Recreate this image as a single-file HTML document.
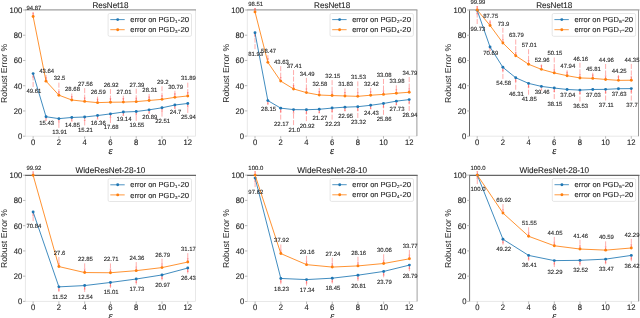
<!DOCTYPE html>
<html><head><meta charset="utf-8"><style>
html,body{margin:0;padding:0;background:#fff;overflow:hidden;}
svg{display:block;font-family:"Liberation Sans", sans-serif;will-change:transform;text-rendering:geometricPrecision;}
</style></head><body>
<svg width="640" height="318" viewBox="0 0 640 318">
<rect width="640" height="318" fill="#fff"/>
<line x1="25.4" y1="136.2" x2="195.5" y2="136.2" stroke="#e8e8e8" stroke-width="1"/>
<line x1="25.4" y1="10.0" x2="25.4" y2="136.2" stroke="#e8e8e8" stroke-width="1"/>
<line x1="195.5" y1="10.0" x2="195.5" y2="136.2" stroke="#e8e8e8" stroke-width="1"/>
<line x1="24.9" y1="9.9" x2="196.0" y2="9.9" stroke="#a0a0a0" stroke-width="1.1"/>
<line x1="22.9" y1="136.20" x2="25.4" y2="136.20" stroke="#aaa" stroke-width="0.8"/>
<text x="17.94" y="139.11" font-size="8.04" textLength="4.26" lengthAdjust="spacingAndGlyphs" fill="#222" stroke="#222" stroke-width="0.1" >0</text>
<line x1="22.9" y1="110.96" x2="25.4" y2="110.96" stroke="#aaa" stroke-width="0.8"/>
<text x="13.67" y="113.87" font-size="8.04" textLength="8.53" lengthAdjust="spacingAndGlyphs" fill="#222" stroke="#222" stroke-width="0.1" >20</text>
<line x1="22.9" y1="85.72" x2="25.4" y2="85.72" stroke="#aaa" stroke-width="0.8"/>
<text x="13.67" y="88.63" font-size="8.04" textLength="8.53" lengthAdjust="spacingAndGlyphs" fill="#222" stroke="#222" stroke-width="0.1" >40</text>
<line x1="22.9" y1="60.48" x2="25.4" y2="60.48" stroke="#aaa" stroke-width="0.8"/>
<text x="13.67" y="63.39" font-size="8.04" textLength="8.53" lengthAdjust="spacingAndGlyphs" fill="#222" stroke="#222" stroke-width="0.1" >60</text>
<line x1="22.9" y1="35.24" x2="25.4" y2="35.24" stroke="#aaa" stroke-width="0.8"/>
<text x="13.67" y="38.15" font-size="8.04" textLength="8.53" lengthAdjust="spacingAndGlyphs" fill="#222" stroke="#222" stroke-width="0.1" >80</text>
<line x1="22.9" y1="10.00" x2="25.4" y2="10.00" stroke="#aaa" stroke-width="0.8"/>
<text x="9.41" y="12.91" font-size="8.04" textLength="12.79" lengthAdjust="spacingAndGlyphs" fill="#222" stroke="#222" stroke-width="0.1" >100</text>
<line x1="33.13" y1="136.2" x2="33.13" y2="138.7" stroke="#aaa" stroke-width="0.8"/>
<text x="31.00" y="144.91" font-size="8.04" textLength="4.26" lengthAdjust="spacingAndGlyphs" fill="#222" stroke="#222" stroke-width="0.1" >0</text>
<line x1="58.90" y1="136.2" x2="58.90" y2="138.7" stroke="#aaa" stroke-width="0.8"/>
<text x="56.77" y="144.91" font-size="8.04" textLength="4.26" lengthAdjust="spacingAndGlyphs" fill="#222" stroke="#222" stroke-width="0.1" >2</text>
<line x1="84.68" y1="136.2" x2="84.68" y2="138.7" stroke="#aaa" stroke-width="0.8"/>
<text x="82.55" y="144.91" font-size="8.04" textLength="4.26" lengthAdjust="spacingAndGlyphs" fill="#222" stroke="#222" stroke-width="0.1" >4</text>
<line x1="110.45" y1="136.2" x2="110.45" y2="138.7" stroke="#aaa" stroke-width="0.8"/>
<text x="108.32" y="144.91" font-size="8.04" textLength="4.26" lengthAdjust="spacingAndGlyphs" fill="#222" stroke="#222" stroke-width="0.1" >6</text>
<line x1="136.22" y1="136.2" x2="136.22" y2="138.7" stroke="#aaa" stroke-width="0.8"/>
<text x="134.09" y="144.91" font-size="8.04" textLength="4.26" lengthAdjust="spacingAndGlyphs" fill="#222" stroke="#222" stroke-width="0.1" >8</text>
<line x1="162.00" y1="136.2" x2="162.00" y2="138.7" stroke="#aaa" stroke-width="0.8"/>
<text x="157.73" y="144.91" font-size="8.04" textLength="8.53" lengthAdjust="spacingAndGlyphs" fill="#222" stroke="#222" stroke-width="0.1" >10</text>
<line x1="187.77" y1="136.2" x2="187.77" y2="138.7" stroke="#aaa" stroke-width="0.8"/>
<text x="183.51" y="144.91" font-size="8.04" textLength="8.53" lengthAdjust="spacingAndGlyphs" fill="#222" stroke="#222" stroke-width="0.1" >12</text>
<text x="108.45" y="153.80" font-size="10.5" textLength="4.0" lengthAdjust="spacingAndGlyphs" font-family="'Liberation Serif', serif" font-style="italic" fill="#111" stroke="#111" stroke-width="0.15">ε</text>
<text transform="translate(6.80,73.40) rotate(-90)" x="-29.49" y="0" font-size="8.69" textLength="58.99" lengthAdjust="spacingAndGlyphs" fill="#222">Robust Error %</text>
<text x="92.40" y="8.14" font-size="8.40" textLength="36.10" lengthAdjust="spacingAndGlyphs" fill="#222" stroke="#222" stroke-width="0.1" >ResNet18</text>
<line x1="33.13" y1="86.93" x2="33.13" y2="74.09" stroke="#ff3838" stroke-opacity="0.6" stroke-width="0.7" stroke-dasharray="5 1.5"/>
<path d="M32.23,77.59 L33.13,73.59 L34.03,77.59 Z" fill="#ff3030" fill-opacity="0.45"/>
<line x1="46.02" y1="118.93" x2="46.02" y2="117.23" stroke="#ff3838" stroke-opacity="0.6" stroke-width="0.7" stroke-dasharray="5 1.5"/>
<path d="M45.12,120.73 L46.02,116.73 L46.92,120.73 Z" fill="#ff3030" fill-opacity="0.45"/>
<line x1="58.90" y1="127.83" x2="58.90" y2="119.15" stroke="#ff3838" stroke-opacity="0.6" stroke-width="0.7" stroke-dasharray="5 1.5"/>
<path d="M58.00,122.65 L58.90,118.65 L59.80,122.65 Z" fill="#ff3030" fill-opacity="0.45"/>
<line x1="71.79" y1="120.43" x2="71.79" y2="117.96" stroke="#ff3838" stroke-opacity="0.6" stroke-width="0.7" stroke-dasharray="5 1.5"/>
<path d="M70.89,121.46 L71.79,117.46 L72.69,121.46 Z" fill="#ff3030" fill-opacity="0.45"/>
<line x1="84.68" y1="125.43" x2="84.68" y2="117.50" stroke="#ff3838" stroke-opacity="0.6" stroke-width="0.7" stroke-dasharray="5 1.5"/>
<path d="M83.78,121.00 L84.68,117.00 L85.58,121.00 Z" fill="#ff3030" fill-opacity="0.45"/>
<line x1="97.56" y1="118.13" x2="97.56" y2="116.05" stroke="#ff3838" stroke-opacity="0.6" stroke-width="0.7" stroke-dasharray="5 1.5"/>
<path d="M96.66,119.55 L97.56,115.55 L98.46,119.55 Z" fill="#ff3030" fill-opacity="0.45"/>
<line x1="110.45" y1="122.93" x2="110.45" y2="114.39" stroke="#ff3838" stroke-opacity="0.6" stroke-width="0.7" stroke-dasharray="5 1.5"/>
<path d="M109.55,117.89 L110.45,113.89 L111.35,117.89 Z" fill="#ff3030" fill-opacity="0.45"/>
<line x1="123.34" y1="114.63" x2="123.34" y2="112.55" stroke="#ff3838" stroke-opacity="0.6" stroke-width="0.7" stroke-dasharray="5 1.5"/>
<path d="M122.44,116.05 L123.34,112.05 L124.24,116.05 Z" fill="#ff3030" fill-opacity="0.45"/>
<line x1="136.22" y1="120.93" x2="136.22" y2="112.03" stroke="#ff3838" stroke-opacity="0.6" stroke-width="0.7" stroke-dasharray="5 1.5"/>
<path d="M135.32,115.53 L136.22,111.53 L137.12,115.53 Z" fill="#ff3030" fill-opacity="0.45"/>
<line x1="149.11" y1="112.93" x2="149.11" y2="110.34" stroke="#ff3838" stroke-opacity="0.6" stroke-width="0.7" stroke-dasharray="5 1.5"/>
<path d="M148.21,113.84 L149.11,109.84 L150.01,113.84 Z" fill="#ff3030" fill-opacity="0.45"/>
<line x1="162.00" y1="116.63" x2="162.00" y2="108.29" stroke="#ff3838" stroke-opacity="0.6" stroke-width="0.7" stroke-dasharray="5 1.5"/>
<path d="M161.10,111.79 L162.00,107.79 L162.90,111.79 Z" fill="#ff3030" fill-opacity="0.45"/>
<line x1="174.88" y1="107.93" x2="174.88" y2="105.53" stroke="#ff3838" stroke-opacity="0.6" stroke-width="0.7" stroke-dasharray="5 1.5"/>
<path d="M173.98,109.03 L174.88,105.03 L175.78,109.03 Z" fill="#ff3030" fill-opacity="0.45"/>
<line x1="187.77" y1="112.93" x2="187.77" y2="103.96" stroke="#ff3838" stroke-opacity="0.6" stroke-width="0.7" stroke-dasharray="5 1.5"/>
<path d="M186.87,107.46 L187.77,103.46 L188.67,107.46 Z" fill="#ff3030" fill-opacity="0.45"/>
<line x1="33.13" y1="12.57" x2="33.13" y2="15.97" stroke="#ff3838" stroke-opacity="0.6" stroke-width="0.7" stroke-dasharray="5 1.5"/>
<path d="M32.23,12.47 L33.13,16.47 L34.03,12.47 Z" fill="#ff3030" fill-opacity="0.45"/>
<line x1="46.02" y1="74.97" x2="46.02" y2="80.63" stroke="#ff3838" stroke-opacity="0.6" stroke-width="0.7" stroke-dasharray="5 1.5"/>
<path d="M45.12,77.13 L46.02,81.13 L46.92,77.13 Z" fill="#ff3030" fill-opacity="0.45"/>
<line x1="58.90" y1="82.67" x2="58.90" y2="94.68" stroke="#ff3838" stroke-opacity="0.6" stroke-width="0.7" stroke-dasharray="5 1.5"/>
<path d="M58.00,91.18 L58.90,95.18 L59.80,91.18 Z" fill="#ff3030" fill-opacity="0.45"/>
<line x1="71.79" y1="93.57" x2="71.79" y2="99.51" stroke="#ff3838" stroke-opacity="0.6" stroke-width="0.7" stroke-dasharray="5 1.5"/>
<path d="M70.89,96.01 L71.79,100.01 L72.69,96.01 Z" fill="#ff3030" fill-opacity="0.45"/>
<line x1="84.68" y1="88.17" x2="84.68" y2="100.92" stroke="#ff3838" stroke-opacity="0.6" stroke-width="0.7" stroke-dasharray="5 1.5"/>
<path d="M83.78,97.42 L84.68,101.42 L85.58,97.42 Z" fill="#ff3030" fill-opacity="0.45"/>
<line x1="97.56" y1="96.67" x2="97.56" y2="102.14" stroke="#ff3838" stroke-opacity="0.6" stroke-width="0.7" stroke-dasharray="5 1.5"/>
<path d="M96.66,98.64 L97.56,102.64 L98.46,98.64 Z" fill="#ff3030" fill-opacity="0.45"/>
<line x1="110.45" y1="89.07" x2="110.45" y2="101.73" stroke="#ff3838" stroke-opacity="0.6" stroke-width="0.7" stroke-dasharray="5 1.5"/>
<path d="M109.55,98.23 L110.45,102.23 L111.35,98.23 Z" fill="#ff3030" fill-opacity="0.45"/>
<line x1="123.34" y1="95.77" x2="123.34" y2="101.61" stroke="#ff3838" stroke-opacity="0.6" stroke-width="0.7" stroke-dasharray="5 1.5"/>
<path d="M122.44,98.11 L123.34,102.11 L124.24,98.11 Z" fill="#ff3030" fill-opacity="0.45"/>
<line x1="136.22" y1="88.77" x2="136.22" y2="101.13" stroke="#ff3838" stroke-opacity="0.6" stroke-width="0.7" stroke-dasharray="5 1.5"/>
<path d="M135.32,97.63 L136.22,101.63 L137.12,97.63 Z" fill="#ff3030" fill-opacity="0.45"/>
<line x1="149.11" y1="93.97" x2="149.11" y2="99.97" stroke="#ff3838" stroke-opacity="0.6" stroke-width="0.7" stroke-dasharray="5 1.5"/>
<path d="M148.21,96.47 L149.11,100.47 L150.01,96.47 Z" fill="#ff3030" fill-opacity="0.45"/>
<line x1="162.00" y1="86.27" x2="162.00" y2="98.85" stroke="#ff3838" stroke-opacity="0.6" stroke-width="0.7" stroke-dasharray="5 1.5"/>
<path d="M161.10,95.35 L162.00,99.35 L162.90,95.35 Z" fill="#ff3030" fill-opacity="0.45"/>
<line x1="174.88" y1="90.77" x2="174.88" y2="96.84" stroke="#ff3838" stroke-opacity="0.6" stroke-width="0.7" stroke-dasharray="5 1.5"/>
<path d="M173.98,93.34 L174.88,97.34 L175.78,93.34 Z" fill="#ff3030" fill-opacity="0.45"/>
<line x1="187.77" y1="82.67" x2="187.77" y2="95.45" stroke="#ff3838" stroke-opacity="0.6" stroke-width="0.7" stroke-dasharray="5 1.5"/>
<path d="M186.87,91.95 L187.77,95.95 L188.67,91.95 Z" fill="#ff3030" fill-opacity="0.45"/>
<polyline points="33.13,73.59 46.02,116.73 58.90,118.65 71.79,117.46 84.68,117.00 97.56,115.55 110.45,113.89 123.34,112.05 136.22,111.53 149.11,109.84 162.00,107.79 174.88,105.03 187.77,103.46" fill="none" stroke="#1f77b4" stroke-width="0.85" stroke-linejoin="round"/>
<circle cx="33.13" cy="73.59" r="1.45" fill="#1f77b4"/>
<circle cx="46.02" cy="116.73" r="1.45" fill="#1f77b4"/>
<circle cx="58.90" cy="118.65" r="1.45" fill="#1f77b4"/>
<circle cx="71.79" cy="117.46" r="1.45" fill="#1f77b4"/>
<circle cx="84.68" cy="117.00" r="1.45" fill="#1f77b4"/>
<circle cx="97.56" cy="115.55" r="1.45" fill="#1f77b4"/>
<circle cx="110.45" cy="113.89" r="1.45" fill="#1f77b4"/>
<circle cx="123.34" cy="112.05" r="1.45" fill="#1f77b4"/>
<circle cx="136.22" cy="111.53" r="1.45" fill="#1f77b4"/>
<circle cx="149.11" cy="109.84" r="1.45" fill="#1f77b4"/>
<circle cx="162.00" cy="107.79" r="1.45" fill="#1f77b4"/>
<circle cx="174.88" cy="105.03" r="1.45" fill="#1f77b4"/>
<circle cx="187.77" cy="103.46" r="1.45" fill="#1f77b4"/>
<polyline points="33.13,16.47 46.02,81.13 58.90,95.18 71.79,100.01 84.68,101.42 97.56,102.64 110.45,102.23 123.34,102.11 136.22,101.63 149.11,100.47 162.00,99.35 174.88,97.34 187.77,95.95" fill="none" stroke="#ff7f0e" stroke-width="0.85" stroke-linejoin="round"/>
<circle cx="33.13" cy="16.47" r="1.45" fill="#ff7f0e"/>
<circle cx="46.02" cy="81.13" r="1.45" fill="#ff7f0e"/>
<circle cx="58.90" cy="95.18" r="1.45" fill="#ff7f0e"/>
<circle cx="71.79" cy="100.01" r="1.45" fill="#ff7f0e"/>
<circle cx="84.68" cy="101.42" r="1.45" fill="#ff7f0e"/>
<circle cx="97.56" cy="102.64" r="1.45" fill="#ff7f0e"/>
<circle cx="110.45" cy="102.23" r="1.45" fill="#ff7f0e"/>
<circle cx="123.34" cy="102.11" r="1.45" fill="#ff7f0e"/>
<circle cx="136.22" cy="101.63" r="1.45" fill="#ff7f0e"/>
<circle cx="149.11" cy="100.47" r="1.45" fill="#ff7f0e"/>
<circle cx="162.00" cy="99.35" r="1.45" fill="#ff7f0e"/>
<circle cx="174.88" cy="97.34" r="1.45" fill="#ff7f0e"/>
<circle cx="187.77" cy="95.95" r="1.45" fill="#ff7f0e"/>
<text x="26.39" y="93.46" font-size="5.98" textLength="14.89" lengthAdjust="spacingAndGlyphs" fill="#222" stroke="#222" stroke-width="0.1" >49.61</text>
<text x="39.27" y="125.46" font-size="5.98" textLength="14.89" lengthAdjust="spacingAndGlyphs" fill="#222" stroke="#222" stroke-width="0.1" >15.43</text>
<text x="52.16" y="134.36" font-size="5.98" textLength="14.89" lengthAdjust="spacingAndGlyphs" fill="#222" stroke="#222" stroke-width="0.1" >13.91</text>
<text x="65.05" y="126.96" font-size="5.98" textLength="14.89" lengthAdjust="spacingAndGlyphs" fill="#222" stroke="#222" stroke-width="0.1" >14.85</text>
<text x="77.93" y="131.96" font-size="5.98" textLength="14.89" lengthAdjust="spacingAndGlyphs" fill="#222" stroke="#222" stroke-width="0.1" >15.21</text>
<text x="90.82" y="124.66" font-size="5.98" textLength="14.89" lengthAdjust="spacingAndGlyphs" fill="#222" stroke="#222" stroke-width="0.1" >16.36</text>
<text x="103.71" y="129.46" font-size="5.98" textLength="14.89" lengthAdjust="spacingAndGlyphs" fill="#222" stroke="#222" stroke-width="0.1" >17.68</text>
<text x="116.59" y="121.16" font-size="5.98" textLength="14.89" lengthAdjust="spacingAndGlyphs" fill="#222" stroke="#222" stroke-width="0.1" >19.14</text>
<text x="129.48" y="127.46" font-size="5.98" textLength="14.89" lengthAdjust="spacingAndGlyphs" fill="#222" stroke="#222" stroke-width="0.1" >19.55</text>
<text x="142.37" y="119.46" font-size="5.98" textLength="14.89" lengthAdjust="spacingAndGlyphs" fill="#222" stroke="#222" stroke-width="0.1" >20.89</text>
<text x="155.25" y="123.16" font-size="5.98" textLength="14.89" lengthAdjust="spacingAndGlyphs" fill="#222" stroke="#222" stroke-width="0.1" >22.51</text>
<text x="169.79" y="114.46" font-size="5.98" textLength="11.58" lengthAdjust="spacingAndGlyphs" fill="#222" stroke="#222" stroke-width="0.1" >24.7</text>
<text x="181.02" y="119.46" font-size="5.98" textLength="14.89" lengthAdjust="spacingAndGlyphs" fill="#222" stroke="#222" stroke-width="0.1" >25.94</text>
<text x="26.39" y="10.36" font-size="5.98" textLength="14.89" lengthAdjust="spacingAndGlyphs" fill="#222" stroke="#222" stroke-width="0.1" >94.87</text>
<text x="39.27" y="72.76" font-size="5.98" textLength="14.89" lengthAdjust="spacingAndGlyphs" fill="#222" stroke="#222" stroke-width="0.1" >43.64</text>
<text x="53.82" y="80.46" font-size="5.98" textLength="11.58" lengthAdjust="spacingAndGlyphs" fill="#222" stroke="#222" stroke-width="0.1" >32.5</text>
<text x="65.05" y="91.36" font-size="5.98" textLength="14.89" lengthAdjust="spacingAndGlyphs" fill="#222" stroke="#222" stroke-width="0.1" >28.68</text>
<text x="77.93" y="85.96" font-size="5.98" textLength="14.89" lengthAdjust="spacingAndGlyphs" fill="#222" stroke="#222" stroke-width="0.1" >27.56</text>
<text x="90.82" y="94.46" font-size="5.98" textLength="14.89" lengthAdjust="spacingAndGlyphs" fill="#222" stroke="#222" stroke-width="0.1" >26.59</text>
<text x="103.71" y="86.86" font-size="5.98" textLength="14.89" lengthAdjust="spacingAndGlyphs" fill="#222" stroke="#222" stroke-width="0.1" >26.92</text>
<text x="116.59" y="93.56" font-size="5.98" textLength="14.89" lengthAdjust="spacingAndGlyphs" fill="#222" stroke="#222" stroke-width="0.1" >27.01</text>
<text x="129.48" y="86.56" font-size="5.98" textLength="14.89" lengthAdjust="spacingAndGlyphs" fill="#222" stroke="#222" stroke-width="0.1" >27.39</text>
<text x="142.37" y="91.76" font-size="5.98" textLength="14.89" lengthAdjust="spacingAndGlyphs" fill="#222" stroke="#222" stroke-width="0.1" >28.31</text>
<text x="156.91" y="84.06" font-size="5.98" textLength="11.58" lengthAdjust="spacingAndGlyphs" fill="#222" stroke="#222" stroke-width="0.1" >29.2</text>
<text x="168.14" y="88.56" font-size="5.98" textLength="14.89" lengthAdjust="spacingAndGlyphs" fill="#222" stroke="#222" stroke-width="0.1" >30.79</text>
<text x="181.02" y="80.46" font-size="5.98" textLength="14.89" lengthAdjust="spacingAndGlyphs" fill="#222" stroke="#222" stroke-width="0.1" >31.89</text>
<rect x="108.10" y="13.50" width="83.4" height="22.8" rx="1.5" fill="#fff" fill-opacity="0.8" stroke="#e0e0e0" stroke-width="0.8"/>
<line x1="110.30" y1="19.60" x2="124.70" y2="19.60" stroke="#1f77b4" stroke-width="0.8"/>
<circle cx="117.70" cy="19.60" r="1.45" fill="#1f77b4"/>
<text x="130.30" y="22.22" font-size="7.25" textLength="44.51" lengthAdjust="spacingAndGlyphs" fill="#222" stroke="#222" stroke-width="0.1" >error on PGD</text>
<text x="175.11" y="23.22" font-size="4.20" textLength="2.55" lengthAdjust="spacingAndGlyphs" fill="#222" stroke="#222" stroke-width="0.1" >1</text>
<text x="177.85" y="22.22" font-size="7.25" textLength="11.27" lengthAdjust="spacingAndGlyphs" fill="#222" stroke="#222" stroke-width="0.1" >-20</text>
<line x1="110.30" y1="29.70" x2="124.70" y2="29.70" stroke="#ff7f0e" stroke-width="0.8"/>
<circle cx="117.70" cy="29.70" r="1.45" fill="#ff7f0e"/>
<text x="130.30" y="32.32" font-size="7.25" textLength="44.51" lengthAdjust="spacingAndGlyphs" fill="#222" stroke="#222" stroke-width="0.1" >error on PGD</text>
<text x="175.11" y="33.32" font-size="4.20" textLength="2.55" lengthAdjust="spacingAndGlyphs" fill="#222" stroke="#222" stroke-width="0.1" >3</text>
<text x="177.85" y="32.32" font-size="7.25" textLength="11.27" lengthAdjust="spacingAndGlyphs" fill="#222" stroke="#222" stroke-width="0.1" >-20</text>
<line x1="247.3" y1="136.1" x2="416.9" y2="136.1" stroke="#e8e8e8" stroke-width="1"/>
<line x1="247.3" y1="10.0" x2="247.3" y2="136.1" stroke="#e8e8e8" stroke-width="1"/>
<line x1="416.9" y1="10.0" x2="416.9" y2="136.1" stroke="#999" stroke-width="1"/>
<line x1="246.8" y1="9.9" x2="417.4" y2="9.9" stroke="#a0a0a0" stroke-width="1.1"/>
<line x1="244.8" y1="136.10" x2="247.3" y2="136.10" stroke="#aaa" stroke-width="0.8"/>
<text x="239.84" y="139.01" font-size="8.04" textLength="4.26" lengthAdjust="spacingAndGlyphs" fill="#222" stroke="#222" stroke-width="0.1" >0</text>
<line x1="244.8" y1="110.88" x2="247.3" y2="110.88" stroke="#aaa" stroke-width="0.8"/>
<text x="235.57" y="113.79" font-size="8.04" textLength="8.53" lengthAdjust="spacingAndGlyphs" fill="#222" stroke="#222" stroke-width="0.1" >20</text>
<line x1="244.8" y1="85.66" x2="247.3" y2="85.66" stroke="#aaa" stroke-width="0.8"/>
<text x="235.57" y="88.57" font-size="8.04" textLength="8.53" lengthAdjust="spacingAndGlyphs" fill="#222" stroke="#222" stroke-width="0.1" >40</text>
<line x1="244.8" y1="60.44" x2="247.3" y2="60.44" stroke="#aaa" stroke-width="0.8"/>
<text x="235.57" y="63.35" font-size="8.04" textLength="8.53" lengthAdjust="spacingAndGlyphs" fill="#222" stroke="#222" stroke-width="0.1" >60</text>
<line x1="244.8" y1="35.22" x2="247.3" y2="35.22" stroke="#aaa" stroke-width="0.8"/>
<text x="235.57" y="38.13" font-size="8.04" textLength="8.53" lengthAdjust="spacingAndGlyphs" fill="#222" stroke="#222" stroke-width="0.1" >80</text>
<line x1="244.8" y1="10.00" x2="247.3" y2="10.00" stroke="#aaa" stroke-width="0.8"/>
<text x="231.31" y="12.91" font-size="8.04" textLength="12.79" lengthAdjust="spacingAndGlyphs" fill="#222" stroke="#222" stroke-width="0.1" >100</text>
<line x1="255.01" y1="136.1" x2="255.01" y2="138.6" stroke="#aaa" stroke-width="0.8"/>
<text x="252.88" y="144.81" font-size="8.04" textLength="4.26" lengthAdjust="spacingAndGlyphs" fill="#222" stroke="#222" stroke-width="0.1" >0</text>
<line x1="280.71" y1="136.1" x2="280.71" y2="138.6" stroke="#aaa" stroke-width="0.8"/>
<text x="278.57" y="144.81" font-size="8.04" textLength="4.26" lengthAdjust="spacingAndGlyphs" fill="#222" stroke="#222" stroke-width="0.1" >2</text>
<line x1="306.40" y1="136.1" x2="306.40" y2="138.6" stroke="#aaa" stroke-width="0.8"/>
<text x="304.27" y="144.81" font-size="8.04" textLength="4.26" lengthAdjust="spacingAndGlyphs" fill="#222" stroke="#222" stroke-width="0.1" >4</text>
<line x1="332.10" y1="136.1" x2="332.10" y2="138.6" stroke="#aaa" stroke-width="0.8"/>
<text x="329.97" y="144.81" font-size="8.04" textLength="4.26" lengthAdjust="spacingAndGlyphs" fill="#222" stroke="#222" stroke-width="0.1" >6</text>
<line x1="357.80" y1="136.1" x2="357.80" y2="138.6" stroke="#aaa" stroke-width="0.8"/>
<text x="355.67" y="144.81" font-size="8.04" textLength="4.26" lengthAdjust="spacingAndGlyphs" fill="#222" stroke="#222" stroke-width="0.1" >8</text>
<line x1="383.49" y1="136.1" x2="383.49" y2="138.6" stroke="#aaa" stroke-width="0.8"/>
<text x="379.23" y="144.81" font-size="8.04" textLength="8.53" lengthAdjust="spacingAndGlyphs" fill="#222" stroke="#222" stroke-width="0.1" >10</text>
<line x1="409.19" y1="136.1" x2="409.19" y2="138.6" stroke="#aaa" stroke-width="0.8"/>
<text x="404.93" y="144.81" font-size="8.04" textLength="8.53" lengthAdjust="spacingAndGlyphs" fill="#222" stroke="#222" stroke-width="0.1" >12</text>
<text x="330.10" y="153.70" font-size="10.5" textLength="4.0" lengthAdjust="spacingAndGlyphs" font-family="'Liberation Serif', serif" font-style="italic" fill="#111" stroke="#111" stroke-width="0.15">ε</text>
<text transform="translate(228.70,73.35) rotate(-90)" x="-29.49" y="0" font-size="8.69" textLength="58.99" lengthAdjust="spacingAndGlyphs" fill="#222">Robust Error %</text>
<text x="314.05" y="8.14" font-size="8.40" textLength="36.10" lengthAdjust="spacingAndGlyphs" fill="#222" stroke="#222" stroke-width="0.1" >ResNet18</text>
<line x1="255.01" y1="49.13" x2="255.01" y2="33.29" stroke="#ff3838" stroke-opacity="0.6" stroke-width="0.7" stroke-dasharray="5 1.5"/>
<path d="M254.11,36.79 L255.01,32.79 L255.91,36.79 Z" fill="#ff3030" fill-opacity="0.45"/>
<line x1="267.86" y1="104.33" x2="267.86" y2="101.10" stroke="#ff3838" stroke-opacity="0.6" stroke-width="0.7" stroke-dasharray="5 1.5"/>
<path d="M266.96,104.60 L267.86,100.60 L268.76,104.60 Z" fill="#ff3030" fill-opacity="0.45"/>
<line x1="280.71" y1="119.63" x2="280.71" y2="108.64" stroke="#ff3838" stroke-opacity="0.6" stroke-width="0.7" stroke-dasharray="5 1.5"/>
<path d="M279.81,112.14 L280.71,108.14 L281.61,112.14 Z" fill="#ff3030" fill-opacity="0.45"/>
<line x1="293.55" y1="125.13" x2="293.55" y2="110.12" stroke="#ff3838" stroke-opacity="0.6" stroke-width="0.7" stroke-dasharray="5 1.5"/>
<path d="M292.65,113.62 L293.55,109.62 L294.45,113.62 Z" fill="#ff3030" fill-opacity="0.45"/>
<line x1="306.40" y1="121.13" x2="306.40" y2="110.22" stroke="#ff3838" stroke-opacity="0.6" stroke-width="0.7" stroke-dasharray="5 1.5"/>
<path d="M305.50,113.72 L306.40,109.72 L307.30,113.72 Z" fill="#ff3030" fill-opacity="0.45"/>
<line x1="319.25" y1="113.13" x2="319.25" y2="109.78" stroke="#ff3838" stroke-opacity="0.6" stroke-width="0.7" stroke-dasharray="5 1.5"/>
<path d="M318.35,113.28 L319.25,109.28 L320.15,113.28 Z" fill="#ff3030" fill-opacity="0.45"/>
<line x1="332.10" y1="119.63" x2="332.10" y2="108.57" stroke="#ff3838" stroke-opacity="0.6" stroke-width="0.7" stroke-dasharray="5 1.5"/>
<path d="M331.20,112.07 L332.10,108.07 L333.00,112.07 Z" fill="#ff3030" fill-opacity="0.45"/>
<line x1="344.95" y1="111.03" x2="344.95" y2="107.66" stroke="#ff3838" stroke-opacity="0.6" stroke-width="0.7" stroke-dasharray="5 1.5"/>
<path d="M344.05,111.16 L344.95,107.16 L345.85,111.16 Z" fill="#ff3030" fill-opacity="0.45"/>
<line x1="357.80" y1="117.93" x2="357.80" y2="107.19" stroke="#ff3838" stroke-opacity="0.6" stroke-width="0.7" stroke-dasharray="5 1.5"/>
<path d="M356.90,110.69 L357.80,106.69 L358.70,110.69 Z" fill="#ff3030" fill-opacity="0.45"/>
<line x1="370.65" y1="108.73" x2="370.65" y2="105.79" stroke="#ff3838" stroke-opacity="0.6" stroke-width="0.7" stroke-dasharray="5 1.5"/>
<path d="M369.75,109.29 L370.65,105.29 L371.55,109.29 Z" fill="#ff3030" fill-opacity="0.45"/>
<line x1="383.49" y1="114.83" x2="383.49" y2="103.99" stroke="#ff3838" stroke-opacity="0.6" stroke-width="0.7" stroke-dasharray="5 1.5"/>
<path d="M382.59,107.49 L383.49,103.49 L384.39,107.49 Z" fill="#ff3030" fill-opacity="0.45"/>
<line x1="396.34" y1="104.93" x2="396.34" y2="101.63" stroke="#ff3838" stroke-opacity="0.6" stroke-width="0.7" stroke-dasharray="5 1.5"/>
<path d="M395.44,105.13 L396.34,101.13 L397.24,105.13 Z" fill="#ff3030" fill-opacity="0.45"/>
<line x1="409.19" y1="110.93" x2="409.19" y2="100.11" stroke="#ff3838" stroke-opacity="0.6" stroke-width="0.7" stroke-dasharray="5 1.5"/>
<path d="M408.29,103.61 L409.19,99.61 L410.09,103.61 Z" fill="#ff3030" fill-opacity="0.45"/>
<line x1="255.01" y1="7.97" x2="255.01" y2="11.38" stroke="#ff3838" stroke-opacity="0.6" stroke-width="0.7" stroke-dasharray="5 1.5"/>
<path d="M254.11,7.88 L255.01,11.88 L255.91,7.88 Z" fill="#ff3030" fill-opacity="0.45"/>
<line x1="267.86" y1="55.17" x2="267.86" y2="61.87" stroke="#ff3838" stroke-opacity="0.6" stroke-width="0.7" stroke-dasharray="5 1.5"/>
<path d="M266.96,58.37 L267.86,62.37 L268.76,58.37 Z" fill="#ff3030" fill-opacity="0.45"/>
<line x1="280.71" y1="66.17" x2="280.71" y2="80.58" stroke="#ff3838" stroke-opacity="0.6" stroke-width="0.7" stroke-dasharray="5 1.5"/>
<path d="M279.81,77.08 L280.71,81.08 L281.61,77.08 Z" fill="#ff3030" fill-opacity="0.45"/>
<line x1="293.55" y1="70.07" x2="293.55" y2="88.43" stroke="#ff3838" stroke-opacity="0.6" stroke-width="0.7" stroke-dasharray="5 1.5"/>
<path d="M292.65,84.93 L293.55,88.93 L294.45,84.93 Z" fill="#ff3030" fill-opacity="0.45"/>
<line x1="306.40" y1="77.87" x2="306.40" y2="92.11" stroke="#ff3838" stroke-opacity="0.6" stroke-width="0.7" stroke-dasharray="5 1.5"/>
<path d="M305.50,88.61 L306.40,92.61 L307.30,88.61 Z" fill="#ff3030" fill-opacity="0.45"/>
<line x1="319.25" y1="87.97" x2="319.25" y2="94.52" stroke="#ff3838" stroke-opacity="0.6" stroke-width="0.7" stroke-dasharray="5 1.5"/>
<path d="M318.35,91.02 L319.25,95.02 L320.15,91.02 Z" fill="#ff3030" fill-opacity="0.45"/>
<line x1="332.10" y1="80.17" x2="332.10" y2="95.06" stroke="#ff3838" stroke-opacity="0.6" stroke-width="0.7" stroke-dasharray="5 1.5"/>
<path d="M331.20,91.56 L332.10,95.56 L333.00,91.56 Z" fill="#ff3030" fill-opacity="0.45"/>
<line x1="344.95" y1="88.37" x2="344.95" y2="95.46" stroke="#ff3838" stroke-opacity="0.6" stroke-width="0.7" stroke-dasharray="5 1.5"/>
<path d="M344.05,91.96 L344.95,95.96 L345.85,91.96 Z" fill="#ff3030" fill-opacity="0.45"/>
<line x1="357.80" y1="81.37" x2="357.80" y2="95.84" stroke="#ff3838" stroke-opacity="0.6" stroke-width="0.7" stroke-dasharray="5 1.5"/>
<path d="M356.90,92.34 L357.80,96.34 L358.70,92.34 Z" fill="#ff3030" fill-opacity="0.45"/>
<line x1="370.65" y1="87.87" x2="370.65" y2="94.72" stroke="#ff3838" stroke-opacity="0.6" stroke-width="0.7" stroke-dasharray="5 1.5"/>
<path d="M369.75,91.22 L370.65,95.22 L371.55,91.22 Z" fill="#ff3030" fill-opacity="0.45"/>
<line x1="383.49" y1="79.07" x2="383.49" y2="93.89" stroke="#ff3838" stroke-opacity="0.6" stroke-width="0.7" stroke-dasharray="5 1.5"/>
<path d="M382.59,90.39 L383.49,94.39 L384.39,90.39 Z" fill="#ff3030" fill-opacity="0.45"/>
<line x1="396.34" y1="85.37" x2="396.34" y2="92.75" stroke="#ff3838" stroke-opacity="0.6" stroke-width="0.7" stroke-dasharray="5 1.5"/>
<path d="M395.44,89.25 L396.34,93.25 L397.24,89.25 Z" fill="#ff3030" fill-opacity="0.45"/>
<line x1="409.19" y1="77.07" x2="409.19" y2="91.73" stroke="#ff3838" stroke-opacity="0.6" stroke-width="0.7" stroke-dasharray="5 1.5"/>
<path d="M408.29,88.23 L409.19,92.23 L410.09,88.23 Z" fill="#ff3030" fill-opacity="0.45"/>
<polyline points="255.01,32.79 267.86,100.60 280.71,108.14 293.55,109.62 306.40,109.72 319.25,109.28 332.10,108.07 344.95,107.16 357.80,106.69 370.65,105.29 383.49,103.49 396.34,101.13 409.19,99.61" fill="none" stroke="#1f77b4" stroke-width="0.85" stroke-linejoin="round"/>
<circle cx="255.01" cy="32.79" r="1.45" fill="#1f77b4"/>
<circle cx="267.86" cy="100.60" r="1.45" fill="#1f77b4"/>
<circle cx="280.71" cy="108.14" r="1.45" fill="#1f77b4"/>
<circle cx="293.55" cy="109.62" r="1.45" fill="#1f77b4"/>
<circle cx="306.40" cy="109.72" r="1.45" fill="#1f77b4"/>
<circle cx="319.25" cy="109.28" r="1.45" fill="#1f77b4"/>
<circle cx="332.10" cy="108.07" r="1.45" fill="#1f77b4"/>
<circle cx="344.95" cy="107.16" r="1.45" fill="#1f77b4"/>
<circle cx="357.80" cy="106.69" r="1.45" fill="#1f77b4"/>
<circle cx="370.65" cy="105.29" r="1.45" fill="#1f77b4"/>
<circle cx="383.49" cy="103.49" r="1.45" fill="#1f77b4"/>
<circle cx="396.34" cy="101.13" r="1.45" fill="#1f77b4"/>
<circle cx="409.19" cy="99.61" r="1.45" fill="#1f77b4"/>
<polyline points="255.01,11.88 267.86,62.37 280.71,81.08 293.55,88.93 306.40,92.61 319.25,95.02 332.10,95.56 344.95,95.96 357.80,96.34 370.65,95.22 383.49,94.39 396.34,93.25 409.19,92.23" fill="none" stroke="#ff7f0e" stroke-width="0.85" stroke-linejoin="round"/>
<circle cx="255.01" cy="11.88" r="1.45" fill="#ff7f0e"/>
<circle cx="267.86" cy="62.37" r="1.45" fill="#ff7f0e"/>
<circle cx="280.71" cy="81.08" r="1.45" fill="#ff7f0e"/>
<circle cx="293.55" cy="88.93" r="1.45" fill="#ff7f0e"/>
<circle cx="306.40" cy="92.61" r="1.45" fill="#ff7f0e"/>
<circle cx="319.25" cy="95.02" r="1.45" fill="#ff7f0e"/>
<circle cx="332.10" cy="95.56" r="1.45" fill="#ff7f0e"/>
<circle cx="344.95" cy="95.96" r="1.45" fill="#ff7f0e"/>
<circle cx="357.80" cy="96.34" r="1.45" fill="#ff7f0e"/>
<circle cx="370.65" cy="95.22" r="1.45" fill="#ff7f0e"/>
<circle cx="383.49" cy="94.39" r="1.45" fill="#ff7f0e"/>
<circle cx="396.34" cy="93.25" r="1.45" fill="#ff7f0e"/>
<circle cx="409.19" cy="92.23" r="1.45" fill="#ff7f0e"/>
<text x="248.27" y="55.66" font-size="5.98" textLength="14.89" lengthAdjust="spacingAndGlyphs" fill="#222" stroke="#222" stroke-width="0.1" >81.93</text>
<text x="261.11" y="110.86" font-size="5.98" textLength="14.89" lengthAdjust="spacingAndGlyphs" fill="#222" stroke="#222" stroke-width="0.1" >28.15</text>
<text x="273.96" y="126.16" font-size="5.98" textLength="14.89" lengthAdjust="spacingAndGlyphs" fill="#222" stroke="#222" stroke-width="0.1" >22.17</text>
<text x="288.47" y="131.66" font-size="5.98" textLength="11.58" lengthAdjust="spacingAndGlyphs" fill="#222" stroke="#222" stroke-width="0.1" >21.0</text>
<text x="299.66" y="127.66" font-size="5.98" textLength="14.89" lengthAdjust="spacingAndGlyphs" fill="#222" stroke="#222" stroke-width="0.1" >20.92</text>
<text x="312.51" y="119.66" font-size="5.98" textLength="14.89" lengthAdjust="spacingAndGlyphs" fill="#222" stroke="#222" stroke-width="0.1" >21.27</text>
<text x="325.36" y="126.16" font-size="5.98" textLength="14.89" lengthAdjust="spacingAndGlyphs" fill="#222" stroke="#222" stroke-width="0.1" >22.23</text>
<text x="338.21" y="117.56" font-size="5.98" textLength="14.89" lengthAdjust="spacingAndGlyphs" fill="#222" stroke="#222" stroke-width="0.1" >22.95</text>
<text x="351.05" y="124.46" font-size="5.98" textLength="14.89" lengthAdjust="spacingAndGlyphs" fill="#222" stroke="#222" stroke-width="0.1" >23.32</text>
<text x="363.90" y="115.26" font-size="5.98" textLength="14.89" lengthAdjust="spacingAndGlyphs" fill="#222" stroke="#222" stroke-width="0.1" >24.43</text>
<text x="376.75" y="121.36" font-size="5.98" textLength="14.89" lengthAdjust="spacingAndGlyphs" fill="#222" stroke="#222" stroke-width="0.1" >25.86</text>
<text x="389.60" y="111.46" font-size="5.98" textLength="14.89" lengthAdjust="spacingAndGlyphs" fill="#222" stroke="#222" stroke-width="0.1" >27.73</text>
<text x="402.45" y="117.46" font-size="5.98" textLength="14.89" lengthAdjust="spacingAndGlyphs" fill="#222" stroke="#222" stroke-width="0.1" >28.94</text>
<text x="248.27" y="5.76" font-size="5.98" textLength="14.89" lengthAdjust="spacingAndGlyphs" fill="#222" stroke="#222" stroke-width="0.1" >98.51</text>
<text x="261.11" y="52.96" font-size="5.98" textLength="14.89" lengthAdjust="spacingAndGlyphs" fill="#222" stroke="#222" stroke-width="0.1" >58.47</text>
<text x="273.96" y="63.96" font-size="5.98" textLength="14.89" lengthAdjust="spacingAndGlyphs" fill="#222" stroke="#222" stroke-width="0.1" >43.63</text>
<text x="286.81" y="67.86" font-size="5.98" textLength="14.89" lengthAdjust="spacingAndGlyphs" fill="#222" stroke="#222" stroke-width="0.1" >37.41</text>
<text x="299.66" y="75.66" font-size="5.98" textLength="14.89" lengthAdjust="spacingAndGlyphs" fill="#222" stroke="#222" stroke-width="0.1" >34.49</text>
<text x="312.51" y="85.76" font-size="5.98" textLength="14.89" lengthAdjust="spacingAndGlyphs" fill="#222" stroke="#222" stroke-width="0.1" >32.58</text>
<text x="325.36" y="77.96" font-size="5.98" textLength="14.89" lengthAdjust="spacingAndGlyphs" fill="#222" stroke="#222" stroke-width="0.1" >32.15</text>
<text x="338.21" y="86.16" font-size="5.98" textLength="14.89" lengthAdjust="spacingAndGlyphs" fill="#222" stroke="#222" stroke-width="0.1" >31.83</text>
<text x="351.05" y="79.16" font-size="5.98" textLength="14.89" lengthAdjust="spacingAndGlyphs" fill="#222" stroke="#222" stroke-width="0.1" >31.53</text>
<text x="363.90" y="85.66" font-size="5.98" textLength="14.89" lengthAdjust="spacingAndGlyphs" fill="#222" stroke="#222" stroke-width="0.1" >32.42</text>
<text x="376.75" y="76.86" font-size="5.98" textLength="14.89" lengthAdjust="spacingAndGlyphs" fill="#222" stroke="#222" stroke-width="0.1" >33.08</text>
<text x="389.60" y="83.16" font-size="5.98" textLength="14.89" lengthAdjust="spacingAndGlyphs" fill="#222" stroke="#222" stroke-width="0.1" >33.98</text>
<text x="402.45" y="74.86" font-size="5.98" textLength="14.89" lengthAdjust="spacingAndGlyphs" fill="#222" stroke="#222" stroke-width="0.1" >34.79</text>
<rect x="330.00" y="13.50" width="83.4" height="22.8" rx="1.5" fill="#fff" fill-opacity="0.8" stroke="#e0e0e0" stroke-width="0.8"/>
<line x1="332.20" y1="19.60" x2="346.60" y2="19.60" stroke="#1f77b4" stroke-width="0.8"/>
<circle cx="339.60" cy="19.60" r="1.45" fill="#1f77b4"/>
<text x="352.20" y="22.22" font-size="7.25" textLength="44.51" lengthAdjust="spacingAndGlyphs" fill="#222" stroke="#222" stroke-width="0.1" >error on PGD</text>
<text x="397.01" y="23.22" font-size="4.20" textLength="2.55" lengthAdjust="spacingAndGlyphs" fill="#222" stroke="#222" stroke-width="0.1" >2</text>
<text x="399.75" y="22.22" font-size="7.25" textLength="11.27" lengthAdjust="spacingAndGlyphs" fill="#222" stroke="#222" stroke-width="0.1" >-20</text>
<line x1="332.20" y1="29.70" x2="346.60" y2="29.70" stroke="#ff7f0e" stroke-width="0.8"/>
<circle cx="339.60" cy="29.70" r="1.45" fill="#ff7f0e"/>
<text x="352.20" y="32.32" font-size="7.25" textLength="44.51" lengthAdjust="spacingAndGlyphs" fill="#222" stroke="#222" stroke-width="0.1" >error on PGD</text>
<text x="397.01" y="33.32" font-size="4.20" textLength="2.55" lengthAdjust="spacingAndGlyphs" fill="#222" stroke="#222" stroke-width="0.1" >4</text>
<text x="399.75" y="32.32" font-size="7.25" textLength="11.27" lengthAdjust="spacingAndGlyphs" fill="#222" stroke="#222" stroke-width="0.1" >-20</text>
<line x1="469.5" y1="136.2" x2="639.0" y2="136.2" stroke="#e8e8e8" stroke-width="1"/>
<line x1="469.5" y1="10.0" x2="469.5" y2="136.2" stroke="#666" stroke-width="1"/>
<line x1="638.5" y1="10.0" x2="638.5" y2="136.2" stroke="#999" stroke-width="1"/>
<line x1="469.0" y1="9.9" x2="639.5" y2="9.9" stroke="#a0a0a0" stroke-width="1.1"/>
<line x1="467.0" y1="136.20" x2="469.5" y2="136.20" stroke="#aaa" stroke-width="0.8"/>
<text x="462.04" y="139.11" font-size="8.04" textLength="4.26" lengthAdjust="spacingAndGlyphs" fill="#222" stroke="#222" stroke-width="0.1" >0</text>
<line x1="467.0" y1="110.96" x2="469.5" y2="110.96" stroke="#aaa" stroke-width="0.8"/>
<text x="457.77" y="113.87" font-size="8.04" textLength="8.53" lengthAdjust="spacingAndGlyphs" fill="#222" stroke="#222" stroke-width="0.1" >20</text>
<line x1="467.0" y1="85.72" x2="469.5" y2="85.72" stroke="#aaa" stroke-width="0.8"/>
<text x="457.77" y="88.63" font-size="8.04" textLength="8.53" lengthAdjust="spacingAndGlyphs" fill="#222" stroke="#222" stroke-width="0.1" >40</text>
<line x1="467.0" y1="60.48" x2="469.5" y2="60.48" stroke="#aaa" stroke-width="0.8"/>
<text x="457.77" y="63.39" font-size="8.04" textLength="8.53" lengthAdjust="spacingAndGlyphs" fill="#222" stroke="#222" stroke-width="0.1" >60</text>
<line x1="467.0" y1="35.24" x2="469.5" y2="35.24" stroke="#aaa" stroke-width="0.8"/>
<text x="457.77" y="38.15" font-size="8.04" textLength="8.53" lengthAdjust="spacingAndGlyphs" fill="#222" stroke="#222" stroke-width="0.1" >80</text>
<line x1="467.0" y1="10.00" x2="469.5" y2="10.00" stroke="#aaa" stroke-width="0.8"/>
<text x="453.51" y="12.91" font-size="8.04" textLength="12.79" lengthAdjust="spacingAndGlyphs" fill="#222" stroke="#222" stroke-width="0.1" >100</text>
<line x1="477.20" y1="136.2" x2="477.20" y2="138.7" stroke="#aaa" stroke-width="0.8"/>
<text x="475.07" y="144.91" font-size="8.04" textLength="4.26" lengthAdjust="spacingAndGlyphs" fill="#222" stroke="#222" stroke-width="0.1" >0</text>
<line x1="502.89" y1="136.2" x2="502.89" y2="138.7" stroke="#aaa" stroke-width="0.8"/>
<text x="500.75" y="144.91" font-size="8.04" textLength="4.26" lengthAdjust="spacingAndGlyphs" fill="#222" stroke="#222" stroke-width="0.1" >2</text>
<line x1="528.57" y1="136.2" x2="528.57" y2="138.7" stroke="#aaa" stroke-width="0.8"/>
<text x="526.44" y="144.91" font-size="8.04" textLength="4.26" lengthAdjust="spacingAndGlyphs" fill="#222" stroke="#222" stroke-width="0.1" >4</text>
<line x1="554.25" y1="136.2" x2="554.25" y2="138.7" stroke="#aaa" stroke-width="0.8"/>
<text x="552.12" y="144.91" font-size="8.04" textLength="4.26" lengthAdjust="spacingAndGlyphs" fill="#222" stroke="#222" stroke-width="0.1" >6</text>
<line x1="579.93" y1="136.2" x2="579.93" y2="138.7" stroke="#aaa" stroke-width="0.8"/>
<text x="577.80" y="144.91" font-size="8.04" textLength="4.26" lengthAdjust="spacingAndGlyphs" fill="#222" stroke="#222" stroke-width="0.1" >8</text>
<line x1="605.61" y1="136.2" x2="605.61" y2="138.7" stroke="#aaa" stroke-width="0.8"/>
<text x="601.35" y="144.91" font-size="8.04" textLength="8.53" lengthAdjust="spacingAndGlyphs" fill="#222" stroke="#222" stroke-width="0.1" >10</text>
<line x1="631.30" y1="136.2" x2="631.30" y2="138.7" stroke="#aaa" stroke-width="0.8"/>
<text x="627.03" y="144.91" font-size="8.04" textLength="8.53" lengthAdjust="spacingAndGlyphs" fill="#222" stroke="#222" stroke-width="0.1" >12</text>
<text x="552.25" y="153.80" font-size="10.5" textLength="4.0" lengthAdjust="spacingAndGlyphs" font-family="'Liberation Serif', serif" font-style="italic" fill="#111" stroke="#111" stroke-width="0.15">ε</text>
<text transform="translate(450.90,73.40) rotate(-90)" x="-29.49" y="0" font-size="8.69" textLength="58.99" lengthAdjust="spacingAndGlyphs" fill="#222">Robust Error %</text>
<text x="536.20" y="8.14" font-size="8.40" textLength="36.10" lengthAdjust="spacingAndGlyphs" fill="#222" stroke="#222" stroke-width="0.1" >ResNet18</text>
<line x1="477.20" y1="24.03" x2="477.20" y2="10.84" stroke="#ff3838" stroke-opacity="0.6" stroke-width="0.7" stroke-dasharray="5 1.5"/>
<path d="M476.30,14.34 L477.20,10.34 L478.10,14.34 Z" fill="#ff3030" fill-opacity="0.45"/>
<line x1="490.05" y1="48.93" x2="490.05" y2="47.49" stroke="#ff3838" stroke-opacity="0.6" stroke-width="0.7" stroke-dasharray="5 1.5"/>
<path d="M489.15,50.99 L490.05,46.99 L490.95,50.99 Z" fill="#ff3030" fill-opacity="0.45"/>
<line x1="502.89" y1="78.93" x2="502.89" y2="67.82" stroke="#ff3838" stroke-opacity="0.6" stroke-width="0.7" stroke-dasharray="5 1.5"/>
<path d="M501.99,71.32 L502.89,67.32 L503.79,71.32 Z" fill="#ff3030" fill-opacity="0.45"/>
<line x1="515.73" y1="89.73" x2="515.73" y2="78.26" stroke="#ff3838" stroke-opacity="0.6" stroke-width="0.7" stroke-dasharray="5 1.5"/>
<path d="M514.83,81.76 L515.73,77.76 L516.63,81.76 Z" fill="#ff3030" fill-opacity="0.45"/>
<line x1="528.57" y1="94.73" x2="528.57" y2="83.89" stroke="#ff3838" stroke-opacity="0.6" stroke-width="0.7" stroke-dasharray="5 1.5"/>
<path d="M527.67,87.39 L528.57,83.39 L529.47,87.39 Z" fill="#ff3030" fill-opacity="0.45"/>
<line x1="541.41" y1="87.93" x2="541.41" y2="86.90" stroke="#ff3838" stroke-opacity="0.6" stroke-width="0.7" stroke-dasharray="5 1.5"/>
<path d="M540.51,90.40 L541.41,86.40 L542.31,90.40 Z" fill="#ff3030" fill-opacity="0.45"/>
<line x1="554.25" y1="99.03" x2="554.25" y2="88.55" stroke="#ff3838" stroke-opacity="0.6" stroke-width="0.7" stroke-dasharray="5 1.5"/>
<path d="M553.35,92.05 L554.25,88.05 L555.15,92.05 Z" fill="#ff3030" fill-opacity="0.45"/>
<line x1="579.93" y1="101.53" x2="579.93" y2="90.60" stroke="#ff3838" stroke-opacity="0.6" stroke-width="0.7" stroke-dasharray="5 1.5"/>
<path d="M579.03,94.10 L579.93,90.10 L580.83,94.10 Z" fill="#ff3030" fill-opacity="0.45"/>
<line x1="605.61" y1="100.53" x2="605.61" y2="89.87" stroke="#ff3838" stroke-opacity="0.6" stroke-width="0.7" stroke-dasharray="5 1.5"/>
<path d="M604.71,93.37 L605.61,89.37 L606.51,93.37 Z" fill="#ff3030" fill-opacity="0.45"/>
<line x1="631.30" y1="100.53" x2="631.30" y2="89.12" stroke="#ff3838" stroke-opacity="0.6" stroke-width="0.7" stroke-dasharray="5 1.5"/>
<path d="M630.40,92.62 L631.30,88.62 L632.20,92.62 Z" fill="#ff3030" fill-opacity="0.45"/>
<line x1="477.20" y1="6.37" x2="477.20" y2="9.51" stroke="#ff3838" stroke-opacity="0.6" stroke-width="0.7" stroke-dasharray="5 1.5"/>
<path d="M476.30,6.01 L477.20,10.01 L478.10,6.01 Z" fill="#ff3030" fill-opacity="0.45"/>
<line x1="490.05" y1="19.97" x2="490.05" y2="24.96" stroke="#ff3838" stroke-opacity="0.6" stroke-width="0.7" stroke-dasharray="5 1.5"/>
<path d="M489.15,21.46 L490.05,25.46 L490.95,21.46 Z" fill="#ff3030" fill-opacity="0.45"/>
<line x1="502.89" y1="27.77" x2="502.89" y2="42.44" stroke="#ff3838" stroke-opacity="0.6" stroke-width="0.7" stroke-dasharray="5 1.5"/>
<path d="M501.99,38.94 L502.89,42.94 L503.79,38.94 Z" fill="#ff3030" fill-opacity="0.45"/>
<line x1="515.73" y1="39.57" x2="515.73" y2="55.20" stroke="#ff3838" stroke-opacity="0.6" stroke-width="0.7" stroke-dasharray="5 1.5"/>
<path d="M514.83,51.70 L515.73,55.70 L516.63,51.70 Z" fill="#ff3030" fill-opacity="0.45"/>
<line x1="528.57" y1="49.27" x2="528.57" y2="63.75" stroke="#ff3838" stroke-opacity="0.6" stroke-width="0.7" stroke-dasharray="5 1.5"/>
<path d="M527.67,60.25 L528.57,64.25 L529.47,60.25 Z" fill="#ff3030" fill-opacity="0.45"/>
<line x1="541.41" y1="64.37" x2="541.41" y2="68.86" stroke="#ff3838" stroke-opacity="0.6" stroke-width="0.7" stroke-dasharray="5 1.5"/>
<path d="M540.51,65.36 L541.41,69.36 L542.31,65.36 Z" fill="#ff3030" fill-opacity="0.45"/>
<line x1="554.25" y1="57.47" x2="554.25" y2="72.41" stroke="#ff3838" stroke-opacity="0.6" stroke-width="0.7" stroke-dasharray="5 1.5"/>
<path d="M553.35,68.91 L554.25,72.91 L555.15,68.91 Z" fill="#ff3030" fill-opacity="0.45"/>
<line x1="567.09" y1="70.27" x2="567.09" y2="75.20" stroke="#ff3838" stroke-opacity="0.6" stroke-width="0.7" stroke-dasharray="5 1.5"/>
<path d="M566.19,71.70 L567.09,75.70 L567.99,71.70 Z" fill="#ff3030" fill-opacity="0.45"/>
<line x1="579.93" y1="62.77" x2="579.93" y2="77.45" stroke="#ff3838" stroke-opacity="0.6" stroke-width="0.7" stroke-dasharray="5 1.5"/>
<path d="M579.03,73.95 L579.93,77.95 L580.83,73.95 Z" fill="#ff3030" fill-opacity="0.45"/>
<line x1="592.77" y1="72.77" x2="592.77" y2="77.89" stroke="#ff3838" stroke-opacity="0.6" stroke-width="0.7" stroke-dasharray="5 1.5"/>
<path d="M591.87,74.39 L592.77,78.39 L593.67,74.39 Z" fill="#ff3030" fill-opacity="0.45"/>
<line x1="605.61" y1="63.97" x2="605.61" y2="78.96" stroke="#ff3838" stroke-opacity="0.6" stroke-width="0.7" stroke-dasharray="5 1.5"/>
<path d="M604.71,75.46 L605.61,79.46 L606.51,75.46 Z" fill="#ff3030" fill-opacity="0.45"/>
<line x1="618.45" y1="75.07" x2="618.45" y2="79.86" stroke="#ff3838" stroke-opacity="0.6" stroke-width="0.7" stroke-dasharray="5 1.5"/>
<path d="M617.55,76.36 L618.45,80.36 L619.35,76.36 Z" fill="#ff3030" fill-opacity="0.45"/>
<line x1="631.30" y1="63.97" x2="631.30" y2="79.73" stroke="#ff3838" stroke-opacity="0.6" stroke-width="0.7" stroke-dasharray="5 1.5"/>
<path d="M630.40,76.23 L631.30,80.23 L632.20,76.23 Z" fill="#ff3030" fill-opacity="0.45"/>
<polyline points="477.20,10.34 490.05,46.99 502.89,67.32 515.73,77.76 528.57,83.39 541.41,86.40 554.25,88.05 567.09,89.46 579.93,90.10 592.77,89.47 605.61,89.37 618.45,88.71 631.30,88.62" fill="none" stroke="#1f77b4" stroke-width="0.85" stroke-linejoin="round"/>
<circle cx="477.20" cy="10.34" r="1.45" fill="#1f77b4"/>
<circle cx="490.05" cy="46.99" r="1.45" fill="#1f77b4"/>
<circle cx="502.89" cy="67.32" r="1.45" fill="#1f77b4"/>
<circle cx="515.73" cy="77.76" r="1.45" fill="#1f77b4"/>
<circle cx="528.57" cy="83.39" r="1.45" fill="#1f77b4"/>
<circle cx="541.41" cy="86.40" r="1.45" fill="#1f77b4"/>
<circle cx="554.25" cy="88.05" r="1.45" fill="#1f77b4"/>
<circle cx="567.09" cy="89.46" r="1.45" fill="#1f77b4"/>
<circle cx="579.93" cy="90.10" r="1.45" fill="#1f77b4"/>
<circle cx="592.77" cy="89.47" r="1.45" fill="#1f77b4"/>
<circle cx="605.61" cy="89.37" r="1.45" fill="#1f77b4"/>
<circle cx="618.45" cy="88.71" r="1.45" fill="#1f77b4"/>
<circle cx="631.30" cy="88.62" r="1.45" fill="#1f77b4"/>
<polyline points="477.20,10.01 490.05,25.46 502.89,42.94 515.73,55.70 528.57,64.25 541.41,69.36 554.25,72.91 567.09,75.70 579.93,77.95 592.77,78.39 605.61,79.46 618.45,80.36 631.30,80.23" fill="none" stroke="#ff7f0e" stroke-width="0.85" stroke-linejoin="round"/>
<circle cx="477.20" cy="10.01" r="1.45" fill="#ff7f0e"/>
<circle cx="490.05" cy="25.46" r="1.45" fill="#ff7f0e"/>
<circle cx="502.89" cy="42.94" r="1.45" fill="#ff7f0e"/>
<circle cx="515.73" cy="55.70" r="1.45" fill="#ff7f0e"/>
<circle cx="528.57" cy="64.25" r="1.45" fill="#ff7f0e"/>
<circle cx="541.41" cy="69.36" r="1.45" fill="#ff7f0e"/>
<circle cx="554.25" cy="72.91" r="1.45" fill="#ff7f0e"/>
<circle cx="567.09" cy="75.70" r="1.45" fill="#ff7f0e"/>
<circle cx="579.93" cy="77.95" r="1.45" fill="#ff7f0e"/>
<circle cx="592.77" cy="78.39" r="1.45" fill="#ff7f0e"/>
<circle cx="605.61" cy="79.46" r="1.45" fill="#ff7f0e"/>
<circle cx="618.45" cy="80.36" r="1.45" fill="#ff7f0e"/>
<circle cx="631.30" cy="80.23" r="1.45" fill="#ff7f0e"/>
<text x="470.46" y="30.56" font-size="5.98" textLength="14.89" lengthAdjust="spacingAndGlyphs" fill="#222" stroke="#222" stroke-width="0.1" >99.73</text>
<text x="483.30" y="55.46" font-size="5.98" textLength="14.89" lengthAdjust="spacingAndGlyphs" fill="#222" stroke="#222" stroke-width="0.1" >70.69</text>
<text x="496.14" y="85.46" font-size="5.98" textLength="14.89" lengthAdjust="spacingAndGlyphs" fill="#222" stroke="#222" stroke-width="0.1" >54.58</text>
<text x="508.98" y="96.26" font-size="5.98" textLength="14.89" lengthAdjust="spacingAndGlyphs" fill="#222" stroke="#222" stroke-width="0.1" >46.31</text>
<text x="521.82" y="101.26" font-size="5.98" textLength="14.89" lengthAdjust="spacingAndGlyphs" fill="#222" stroke="#222" stroke-width="0.1" >41.85</text>
<text x="534.67" y="94.46" font-size="5.98" textLength="14.89" lengthAdjust="spacingAndGlyphs" fill="#222" stroke="#222" stroke-width="0.1" >39.46</text>
<text x="547.51" y="105.56" font-size="5.98" textLength="14.89" lengthAdjust="spacingAndGlyphs" fill="#222" stroke="#222" stroke-width="0.1" >38.15</text>
<text x="560.35" y="96.96" font-size="5.98" textLength="14.89" lengthAdjust="spacingAndGlyphs" fill="#222" stroke="#222" stroke-width="0.1" >37.04</text>
<text x="573.19" y="108.06" font-size="5.98" textLength="14.89" lengthAdjust="spacingAndGlyphs" fill="#222" stroke="#222" stroke-width="0.1" >36.53</text>
<text x="586.03" y="96.96" font-size="5.98" textLength="14.89" lengthAdjust="spacingAndGlyphs" fill="#222" stroke="#222" stroke-width="0.1" >37.03</text>
<text x="598.87" y="107.06" font-size="5.98" textLength="14.89" lengthAdjust="spacingAndGlyphs" fill="#222" stroke="#222" stroke-width="0.1" >37.11</text>
<text x="611.71" y="96.26" font-size="5.98" textLength="14.89" lengthAdjust="spacingAndGlyphs" fill="#222" stroke="#222" stroke-width="0.1" >37.63</text>
<text x="626.21" y="107.06" font-size="5.98" textLength="11.58" lengthAdjust="spacingAndGlyphs" fill="#222" stroke="#222" stroke-width="0.1" >37.7</text>
<text x="470.46" y="4.16" font-size="5.98" textLength="14.89" lengthAdjust="spacingAndGlyphs" fill="#222" stroke="#222" stroke-width="0.1" >99.99</text>
<text x="483.30" y="17.76" font-size="5.98" textLength="14.89" lengthAdjust="spacingAndGlyphs" fill="#222" stroke="#222" stroke-width="0.1" >87.75</text>
<text x="497.80" y="25.56" font-size="5.98" textLength="11.58" lengthAdjust="spacingAndGlyphs" fill="#222" stroke="#222" stroke-width="0.1" >73.9</text>
<text x="508.98" y="37.36" font-size="5.98" textLength="14.89" lengthAdjust="spacingAndGlyphs" fill="#222" stroke="#222" stroke-width="0.1" >63.79</text>
<text x="521.82" y="47.06" font-size="5.98" textLength="14.89" lengthAdjust="spacingAndGlyphs" fill="#222" stroke="#222" stroke-width="0.1" >57.01</text>
<text x="534.67" y="62.16" font-size="5.98" textLength="14.89" lengthAdjust="spacingAndGlyphs" fill="#222" stroke="#222" stroke-width="0.1" >52.96</text>
<text x="547.51" y="55.26" font-size="5.98" textLength="14.89" lengthAdjust="spacingAndGlyphs" fill="#222" stroke="#222" stroke-width="0.1" >50.15</text>
<text x="560.35" y="68.06" font-size="5.98" textLength="14.89" lengthAdjust="spacingAndGlyphs" fill="#222" stroke="#222" stroke-width="0.1" >47.94</text>
<text x="573.19" y="60.56" font-size="5.98" textLength="14.89" lengthAdjust="spacingAndGlyphs" fill="#222" stroke="#222" stroke-width="0.1" >46.16</text>
<text x="586.03" y="70.56" font-size="5.98" textLength="14.89" lengthAdjust="spacingAndGlyphs" fill="#222" stroke="#222" stroke-width="0.1" >45.81</text>
<text x="598.87" y="61.76" font-size="5.98" textLength="14.89" lengthAdjust="spacingAndGlyphs" fill="#222" stroke="#222" stroke-width="0.1" >44.96</text>
<text x="611.71" y="72.86" font-size="5.98" textLength="14.89" lengthAdjust="spacingAndGlyphs" fill="#222" stroke="#222" stroke-width="0.1" >44.25</text>
<text x="624.55" y="61.76" font-size="5.98" textLength="14.89" lengthAdjust="spacingAndGlyphs" fill="#222" stroke="#222" stroke-width="0.1" >44.35</text>
<rect x="552.20" y="13.50" width="83.4" height="22.8" rx="1.5" fill="#fff" fill-opacity="0.8" stroke="#e0e0e0" stroke-width="0.8"/>
<line x1="554.40" y1="19.60" x2="568.80" y2="19.60" stroke="#1f77b4" stroke-width="0.8"/>
<circle cx="561.80" cy="19.60" r="1.45" fill="#1f77b4"/>
<text x="574.40" y="22.22" font-size="7.25" textLength="44.51" lengthAdjust="spacingAndGlyphs" fill="#222" stroke="#222" stroke-width="0.1" >error on PGD</text>
<text x="619.21" y="23.22" font-size="4.20" textLength="2.55" lengthAdjust="spacingAndGlyphs" fill="#222" stroke="#222" stroke-width="0.1" >5</text>
<text x="621.95" y="22.22" font-size="7.25" textLength="11.27" lengthAdjust="spacingAndGlyphs" fill="#222" stroke="#222" stroke-width="0.1" >-20</text>
<line x1="554.40" y1="29.70" x2="568.80" y2="29.70" stroke="#ff7f0e" stroke-width="0.8"/>
<circle cx="561.80" cy="29.70" r="1.45" fill="#ff7f0e"/>
<text x="574.40" y="32.32" font-size="7.25" textLength="44.51" lengthAdjust="spacingAndGlyphs" fill="#222" stroke="#222" stroke-width="0.1" >error on PGD</text>
<text x="619.21" y="33.32" font-size="4.20" textLength="2.55" lengthAdjust="spacingAndGlyphs" fill="#222" stroke="#222" stroke-width="0.1" >7</text>
<text x="621.95" y="32.32" font-size="7.25" textLength="11.27" lengthAdjust="spacingAndGlyphs" fill="#222" stroke="#222" stroke-width="0.1" >-20</text>
<line x1="25.4" y1="301.4" x2="195.5" y2="301.4" stroke="#e8e8e8" stroke-width="1"/>
<line x1="25.4" y1="175.2" x2="25.4" y2="301.4" stroke="#e8e8e8" stroke-width="1"/>
<line x1="195.5" y1="175.2" x2="195.5" y2="301.4" stroke="#e8e8e8" stroke-width="1"/>
<line x1="24.9" y1="175.4" x2="196.0" y2="175.4" stroke="#666" stroke-width="1.1"/>
<line x1="22.9" y1="301.40" x2="25.4" y2="301.40" stroke="#aaa" stroke-width="0.8"/>
<text x="17.94" y="304.31" font-size="8.04" textLength="4.26" lengthAdjust="spacingAndGlyphs" fill="#222" stroke="#222" stroke-width="0.1" >0</text>
<line x1="22.9" y1="276.16" x2="25.4" y2="276.16" stroke="#aaa" stroke-width="0.8"/>
<text x="13.67" y="279.07" font-size="8.04" textLength="8.53" lengthAdjust="spacingAndGlyphs" fill="#222" stroke="#222" stroke-width="0.1" >20</text>
<line x1="22.9" y1="250.92" x2="25.4" y2="250.92" stroke="#aaa" stroke-width="0.8"/>
<text x="13.67" y="253.83" font-size="8.04" textLength="8.53" lengthAdjust="spacingAndGlyphs" fill="#222" stroke="#222" stroke-width="0.1" >40</text>
<line x1="22.9" y1="225.68" x2="25.4" y2="225.68" stroke="#aaa" stroke-width="0.8"/>
<text x="13.67" y="228.59" font-size="8.04" textLength="8.53" lengthAdjust="spacingAndGlyphs" fill="#222" stroke="#222" stroke-width="0.1" >60</text>
<line x1="22.9" y1="200.44" x2="25.4" y2="200.44" stroke="#aaa" stroke-width="0.8"/>
<text x="13.67" y="203.35" font-size="8.04" textLength="8.53" lengthAdjust="spacingAndGlyphs" fill="#222" stroke="#222" stroke-width="0.1" >80</text>
<line x1="22.9" y1="175.20" x2="25.4" y2="175.20" stroke="#aaa" stroke-width="0.8"/>
<text x="9.41" y="178.11" font-size="8.04" textLength="12.79" lengthAdjust="spacingAndGlyphs" fill="#222" stroke="#222" stroke-width="0.1" >100</text>
<line x1="33.13" y1="301.4" x2="33.13" y2="303.9" stroke="#aaa" stroke-width="0.8"/>
<text x="31.00" y="310.11" font-size="8.04" textLength="4.26" lengthAdjust="spacingAndGlyphs" fill="#222" stroke="#222" stroke-width="0.1" >0</text>
<line x1="58.90" y1="301.4" x2="58.90" y2="303.9" stroke="#aaa" stroke-width="0.8"/>
<text x="56.77" y="310.11" font-size="8.04" textLength="4.26" lengthAdjust="spacingAndGlyphs" fill="#222" stroke="#222" stroke-width="0.1" >2</text>
<line x1="84.68" y1="301.4" x2="84.68" y2="303.9" stroke="#aaa" stroke-width="0.8"/>
<text x="82.55" y="310.11" font-size="8.04" textLength="4.26" lengthAdjust="spacingAndGlyphs" fill="#222" stroke="#222" stroke-width="0.1" >4</text>
<line x1="110.45" y1="301.4" x2="110.45" y2="303.9" stroke="#aaa" stroke-width="0.8"/>
<text x="108.32" y="310.11" font-size="8.04" textLength="4.26" lengthAdjust="spacingAndGlyphs" fill="#222" stroke="#222" stroke-width="0.1" >6</text>
<line x1="136.22" y1="301.4" x2="136.22" y2="303.9" stroke="#aaa" stroke-width="0.8"/>
<text x="134.09" y="310.11" font-size="8.04" textLength="4.26" lengthAdjust="spacingAndGlyphs" fill="#222" stroke="#222" stroke-width="0.1" >8</text>
<line x1="162.00" y1="301.4" x2="162.00" y2="303.9" stroke="#aaa" stroke-width="0.8"/>
<text x="157.73" y="310.11" font-size="8.04" textLength="8.53" lengthAdjust="spacingAndGlyphs" fill="#222" stroke="#222" stroke-width="0.1" >10</text>
<line x1="187.77" y1="301.4" x2="187.77" y2="303.9" stroke="#aaa" stroke-width="0.8"/>
<text x="183.51" y="310.11" font-size="8.04" textLength="8.53" lengthAdjust="spacingAndGlyphs" fill="#222" stroke="#222" stroke-width="0.1" >12</text>
<text x="108.45" y="319.00" font-size="10.5" textLength="4.0" lengthAdjust="spacingAndGlyphs" font-family="'Liberation Serif', serif" font-style="italic" fill="#111" stroke="#111" stroke-width="0.15">ε</text>
<text transform="translate(6.80,238.60) rotate(-90)" x="-29.49" y="0" font-size="8.69" textLength="58.99" lengthAdjust="spacingAndGlyphs" fill="#222">Robust Error %</text>
<text x="75.56" y="173.34" font-size="8.40" textLength="69.77" lengthAdjust="spacingAndGlyphs" fill="#222" stroke="#222" stroke-width="0.1" >WideResNet-28-10</text>
<line x1="33.13" y1="221.13" x2="33.13" y2="212.50" stroke="#ff3838" stroke-opacity="0.6" stroke-width="0.7" stroke-dasharray="5 1.5"/>
<path d="M32.23,216.00 L33.13,212.00 L34.03,216.00 Z" fill="#ff3030" fill-opacity="0.45"/>
<line x1="58.90" y1="292.03" x2="58.90" y2="287.36" stroke="#ff3838" stroke-opacity="0.6" stroke-width="0.7" stroke-dasharray="5 1.5"/>
<path d="M58.00,290.86 L58.90,286.86 L59.80,290.86 Z" fill="#ff3030" fill-opacity="0.45"/>
<line x1="84.68" y1="292.03" x2="84.68" y2="286.07" stroke="#ff3838" stroke-opacity="0.6" stroke-width="0.7" stroke-dasharray="5 1.5"/>
<path d="M83.78,289.57 L84.68,285.57 L85.58,289.57 Z" fill="#ff3030" fill-opacity="0.45"/>
<line x1="110.45" y1="287.93" x2="110.45" y2="282.96" stroke="#ff3838" stroke-opacity="0.6" stroke-width="0.7" stroke-dasharray="5 1.5"/>
<path d="M109.55,286.46 L110.45,282.46 L111.35,286.46 Z" fill="#ff3030" fill-opacity="0.45"/>
<line x1="136.22" y1="284.63" x2="136.22" y2="279.52" stroke="#ff3838" stroke-opacity="0.6" stroke-width="0.7" stroke-dasharray="5 1.5"/>
<path d="M135.32,283.02 L136.22,279.02 L137.12,283.02 Z" fill="#ff3030" fill-opacity="0.45"/>
<line x1="162.00" y1="280.43" x2="162.00" y2="275.44" stroke="#ff3838" stroke-opacity="0.6" stroke-width="0.7" stroke-dasharray="5 1.5"/>
<path d="M161.10,278.94 L162.00,274.94 L162.90,278.94 Z" fill="#ff3030" fill-opacity="0.45"/>
<line x1="187.77" y1="273.53" x2="187.77" y2="268.55" stroke="#ff3838" stroke-opacity="0.6" stroke-width="0.7" stroke-dasharray="5 1.5"/>
<path d="M186.87,272.05 L187.77,268.05 L188.67,272.05 Z" fill="#ff3030" fill-opacity="0.45"/>
<line x1="33.13" y1="172.47" x2="33.13" y2="174.80" stroke="#ff3838" stroke-opacity="0.6" stroke-width="0.7" stroke-dasharray="5 1.5"/>
<path d="M32.23,171.30 L33.13,175.30 L34.03,171.30 Z" fill="#ff3030" fill-opacity="0.45"/>
<line x1="58.90" y1="257.07" x2="58.90" y2="266.07" stroke="#ff3838" stroke-opacity="0.6" stroke-width="0.7" stroke-dasharray="5 1.5"/>
<path d="M58.00,262.57 L58.90,266.57 L59.80,262.57 Z" fill="#ff3030" fill-opacity="0.45"/>
<line x1="84.68" y1="263.37" x2="84.68" y2="272.06" stroke="#ff3838" stroke-opacity="0.6" stroke-width="0.7" stroke-dasharray="5 1.5"/>
<path d="M83.78,268.56 L84.68,272.56 L85.58,268.56 Z" fill="#ff3030" fill-opacity="0.45"/>
<line x1="110.45" y1="263.47" x2="110.45" y2="272.24" stroke="#ff3838" stroke-opacity="0.6" stroke-width="0.7" stroke-dasharray="5 1.5"/>
<path d="M109.55,268.74 L110.45,272.74 L111.35,268.74 Z" fill="#ff3030" fill-opacity="0.45"/>
<line x1="136.22" y1="262.07" x2="136.22" y2="270.16" stroke="#ff3838" stroke-opacity="0.6" stroke-width="0.7" stroke-dasharray="5 1.5"/>
<path d="M135.32,266.66 L136.22,270.66 L137.12,266.66 Z" fill="#ff3030" fill-opacity="0.45"/>
<line x1="162.00" y1="258.77" x2="162.00" y2="267.09" stroke="#ff3838" stroke-opacity="0.6" stroke-width="0.7" stroke-dasharray="5 1.5"/>
<path d="M161.10,263.59 L162.00,267.59 L162.90,263.59 Z" fill="#ff3030" fill-opacity="0.45"/>
<line x1="187.77" y1="253.17" x2="187.77" y2="261.56" stroke="#ff3838" stroke-opacity="0.6" stroke-width="0.7" stroke-dasharray="5 1.5"/>
<path d="M186.87,258.06 L187.77,262.06 L188.67,258.06 Z" fill="#ff3030" fill-opacity="0.45"/>
<polyline points="33.13,212.00 58.90,286.86 84.68,285.57 110.45,282.46 136.22,279.02 162.00,274.94 187.77,268.05" fill="none" stroke="#1f77b4" stroke-width="0.85" stroke-linejoin="round"/>
<circle cx="33.13" cy="212.00" r="1.45" fill="#1f77b4"/>
<circle cx="58.90" cy="286.86" r="1.45" fill="#1f77b4"/>
<circle cx="84.68" cy="285.57" r="1.45" fill="#1f77b4"/>
<circle cx="110.45" cy="282.46" r="1.45" fill="#1f77b4"/>
<circle cx="136.22" cy="279.02" r="1.45" fill="#1f77b4"/>
<circle cx="162.00" cy="274.94" r="1.45" fill="#1f77b4"/>
<circle cx="187.77" cy="268.05" r="1.45" fill="#1f77b4"/>
<polyline points="33.13,175.30 58.90,266.57 84.68,272.56 110.45,272.74 136.22,270.66 162.00,267.59 187.77,262.06" fill="none" stroke="#ff7f0e" stroke-width="0.85" stroke-linejoin="round"/>
<circle cx="33.13" cy="175.30" r="1.45" fill="#ff7f0e"/>
<circle cx="58.90" cy="266.57" r="1.45" fill="#ff7f0e"/>
<circle cx="84.68" cy="272.56" r="1.45" fill="#ff7f0e"/>
<circle cx="110.45" cy="272.74" r="1.45" fill="#ff7f0e"/>
<circle cx="136.22" cy="270.66" r="1.45" fill="#ff7f0e"/>
<circle cx="162.00" cy="267.59" r="1.45" fill="#ff7f0e"/>
<circle cx="187.77" cy="262.06" r="1.45" fill="#ff7f0e"/>
<text x="26.39" y="227.66" font-size="5.98" textLength="14.89" lengthAdjust="spacingAndGlyphs" fill="#222" stroke="#222" stroke-width="0.1" >70.84</text>
<text x="52.16" y="298.56" font-size="5.98" textLength="14.89" lengthAdjust="spacingAndGlyphs" fill="#222" stroke="#222" stroke-width="0.1" >11.52</text>
<text x="77.93" y="298.56" font-size="5.98" textLength="14.89" lengthAdjust="spacingAndGlyphs" fill="#222" stroke="#222" stroke-width="0.1" >12.54</text>
<text x="103.71" y="294.46" font-size="5.98" textLength="14.89" lengthAdjust="spacingAndGlyphs" fill="#222" stroke="#222" stroke-width="0.1" >15.01</text>
<text x="129.48" y="291.16" font-size="5.98" textLength="14.89" lengthAdjust="spacingAndGlyphs" fill="#222" stroke="#222" stroke-width="0.1" >17.73</text>
<text x="155.25" y="286.96" font-size="5.98" textLength="14.89" lengthAdjust="spacingAndGlyphs" fill="#222" stroke="#222" stroke-width="0.1" >20.97</text>
<text x="181.02" y="280.06" font-size="5.98" textLength="14.89" lengthAdjust="spacingAndGlyphs" fill="#222" stroke="#222" stroke-width="0.1" >26.43</text>
<text x="26.39" y="170.26" font-size="5.98" textLength="14.89" lengthAdjust="spacingAndGlyphs" fill="#222" stroke="#222" stroke-width="0.1" >99.92</text>
<text x="53.82" y="254.86" font-size="5.98" textLength="11.58" lengthAdjust="spacingAndGlyphs" fill="#222" stroke="#222" stroke-width="0.1" >27.6</text>
<text x="77.93" y="261.16" font-size="5.98" textLength="14.89" lengthAdjust="spacingAndGlyphs" fill="#222" stroke="#222" stroke-width="0.1" >22.85</text>
<text x="103.71" y="261.26" font-size="5.98" textLength="14.89" lengthAdjust="spacingAndGlyphs" fill="#222" stroke="#222" stroke-width="0.1" >22.71</text>
<text x="129.48" y="259.86" font-size="5.98" textLength="14.89" lengthAdjust="spacingAndGlyphs" fill="#222" stroke="#222" stroke-width="0.1" >24.36</text>
<text x="155.25" y="256.56" font-size="5.98" textLength="14.89" lengthAdjust="spacingAndGlyphs" fill="#222" stroke="#222" stroke-width="0.1" >26.79</text>
<text x="181.02" y="250.96" font-size="5.98" textLength="14.89" lengthAdjust="spacingAndGlyphs" fill="#222" stroke="#222" stroke-width="0.1" >31.17</text>
<rect x="108.10" y="178.70" width="83.4" height="22.8" rx="1.5" fill="#fff" fill-opacity="0.8" stroke="#e0e0e0" stroke-width="0.8"/>
<line x1="110.30" y1="184.80" x2="124.70" y2="184.80" stroke="#1f77b4" stroke-width="0.8"/>
<circle cx="117.70" cy="184.80" r="1.45" fill="#1f77b4"/>
<text x="130.30" y="187.42" font-size="7.25" textLength="44.51" lengthAdjust="spacingAndGlyphs" fill="#222" stroke="#222" stroke-width="0.1" >error on PGD</text>
<text x="175.11" y="188.42" font-size="4.20" textLength="2.55" lengthAdjust="spacingAndGlyphs" fill="#222" stroke="#222" stroke-width="0.1" >1</text>
<text x="177.85" y="187.42" font-size="7.25" textLength="11.27" lengthAdjust="spacingAndGlyphs" fill="#222" stroke="#222" stroke-width="0.1" >-20</text>
<line x1="110.30" y1="194.90" x2="124.70" y2="194.90" stroke="#ff7f0e" stroke-width="0.8"/>
<circle cx="117.70" cy="194.90" r="1.45" fill="#ff7f0e"/>
<text x="130.30" y="197.52" font-size="7.25" textLength="44.51" lengthAdjust="spacingAndGlyphs" fill="#222" stroke="#222" stroke-width="0.1" >error on PGD</text>
<text x="175.11" y="198.52" font-size="4.20" textLength="2.55" lengthAdjust="spacingAndGlyphs" fill="#222" stroke="#222" stroke-width="0.1" >3</text>
<text x="177.85" y="197.52" font-size="7.25" textLength="11.27" lengthAdjust="spacingAndGlyphs" fill="#222" stroke="#222" stroke-width="0.1" >-20</text>
<line x1="247.4" y1="301.5" x2="417.1" y2="301.5" stroke="#e8e8e8" stroke-width="1"/>
<line x1="247.4" y1="175.1" x2="247.4" y2="301.5" stroke="#e8e8e8" stroke-width="1"/>
<line x1="417.1" y1="175.1" x2="417.1" y2="301.5" stroke="#a0a0a0" stroke-width="1"/>
<line x1="246.9" y1="175.4" x2="417.6" y2="175.4" stroke="#666" stroke-width="1.1"/>
<line x1="244.9" y1="301.50" x2="247.4" y2="301.50" stroke="#aaa" stroke-width="0.8"/>
<text x="239.94" y="304.41" font-size="8.04" textLength="4.26" lengthAdjust="spacingAndGlyphs" fill="#222" stroke="#222" stroke-width="0.1" >0</text>
<line x1="244.9" y1="276.22" x2="247.4" y2="276.22" stroke="#aaa" stroke-width="0.8"/>
<text x="235.67" y="279.13" font-size="8.04" textLength="8.53" lengthAdjust="spacingAndGlyphs" fill="#222" stroke="#222" stroke-width="0.1" >20</text>
<line x1="244.9" y1="250.94" x2="247.4" y2="250.94" stroke="#aaa" stroke-width="0.8"/>
<text x="235.67" y="253.85" font-size="8.04" textLength="8.53" lengthAdjust="spacingAndGlyphs" fill="#222" stroke="#222" stroke-width="0.1" >40</text>
<line x1="244.9" y1="225.66" x2="247.4" y2="225.66" stroke="#aaa" stroke-width="0.8"/>
<text x="235.67" y="228.57" font-size="8.04" textLength="8.53" lengthAdjust="spacingAndGlyphs" fill="#222" stroke="#222" stroke-width="0.1" >60</text>
<line x1="244.9" y1="200.38" x2="247.4" y2="200.38" stroke="#aaa" stroke-width="0.8"/>
<text x="235.67" y="203.29" font-size="8.04" textLength="8.53" lengthAdjust="spacingAndGlyphs" fill="#222" stroke="#222" stroke-width="0.1" >80</text>
<line x1="244.9" y1="175.10" x2="247.4" y2="175.10" stroke="#aaa" stroke-width="0.8"/>
<text x="231.41" y="178.01" font-size="8.04" textLength="12.79" lengthAdjust="spacingAndGlyphs" fill="#222" stroke="#222" stroke-width="0.1" >100</text>
<line x1="255.11" y1="301.5" x2="255.11" y2="304.0" stroke="#aaa" stroke-width="0.8"/>
<text x="252.98" y="310.21" font-size="8.04" textLength="4.26" lengthAdjust="spacingAndGlyphs" fill="#222" stroke="#222" stroke-width="0.1" >0</text>
<line x1="280.83" y1="301.5" x2="280.83" y2="304.0" stroke="#aaa" stroke-width="0.8"/>
<text x="278.69" y="310.21" font-size="8.04" textLength="4.26" lengthAdjust="spacingAndGlyphs" fill="#222" stroke="#222" stroke-width="0.1" >2</text>
<line x1="306.54" y1="301.5" x2="306.54" y2="304.0" stroke="#aaa" stroke-width="0.8"/>
<text x="304.41" y="310.21" font-size="8.04" textLength="4.26" lengthAdjust="spacingAndGlyphs" fill="#222" stroke="#222" stroke-width="0.1" >4</text>
<line x1="332.25" y1="301.5" x2="332.25" y2="304.0" stroke="#aaa" stroke-width="0.8"/>
<text x="330.12" y="310.21" font-size="8.04" textLength="4.26" lengthAdjust="spacingAndGlyphs" fill="#222" stroke="#222" stroke-width="0.1" >6</text>
<line x1="357.96" y1="301.5" x2="357.96" y2="304.0" stroke="#aaa" stroke-width="0.8"/>
<text x="355.83" y="310.21" font-size="8.04" textLength="4.26" lengthAdjust="spacingAndGlyphs" fill="#222" stroke="#222" stroke-width="0.1" >8</text>
<line x1="383.67" y1="301.5" x2="383.67" y2="304.0" stroke="#aaa" stroke-width="0.8"/>
<text x="379.41" y="310.21" font-size="8.04" textLength="8.53" lengthAdjust="spacingAndGlyphs" fill="#222" stroke="#222" stroke-width="0.1" >10</text>
<line x1="409.39" y1="301.5" x2="409.39" y2="304.0" stroke="#aaa" stroke-width="0.8"/>
<text x="405.12" y="310.21" font-size="8.04" textLength="8.53" lengthAdjust="spacingAndGlyphs" fill="#222" stroke="#222" stroke-width="0.1" >12</text>
<text x="330.25" y="319.10" font-size="10.5" textLength="4.0" lengthAdjust="spacingAndGlyphs" font-family="'Liberation Serif', serif" font-style="italic" fill="#111" stroke="#111" stroke-width="0.15">ε</text>
<text transform="translate(228.80,238.60) rotate(-90)" x="-29.49" y="0" font-size="8.69" textLength="58.99" lengthAdjust="spacingAndGlyphs" fill="#222">Robust Error %</text>
<text x="297.36" y="173.24" font-size="8.40" textLength="69.77" lengthAdjust="spacingAndGlyphs" fill="#222" stroke="#222" stroke-width="0.1" >WideResNet-28-10</text>
<line x1="255.11" y1="187.13" x2="255.11" y2="178.61" stroke="#ff3838" stroke-opacity="0.6" stroke-width="0.7" stroke-dasharray="5 1.5"/>
<path d="M254.21,182.11 L255.11,178.11 L256.01,182.11 Z" fill="#ff3030" fill-opacity="0.45"/>
<line x1="280.83" y1="284.23" x2="280.83" y2="278.96" stroke="#ff3838" stroke-opacity="0.6" stroke-width="0.7" stroke-dasharray="5 1.5"/>
<path d="M279.93,282.46 L280.83,278.46 L281.73,282.46 Z" fill="#ff3030" fill-opacity="0.45"/>
<line x1="306.54" y1="285.53" x2="306.54" y2="280.08" stroke="#ff3838" stroke-opacity="0.6" stroke-width="0.7" stroke-dasharray="5 1.5"/>
<path d="M305.64,283.58 L306.54,279.58 L307.44,283.58 Z" fill="#ff3030" fill-opacity="0.45"/>
<line x1="332.25" y1="283.53" x2="332.25" y2="278.68" stroke="#ff3838" stroke-opacity="0.6" stroke-width="0.7" stroke-dasharray="5 1.5"/>
<path d="M331.35,282.18 L332.25,278.18 L333.15,282.18 Z" fill="#ff3030" fill-opacity="0.45"/>
<line x1="357.96" y1="281.03" x2="357.96" y2="275.70" stroke="#ff3838" stroke-opacity="0.6" stroke-width="0.7" stroke-dasharray="5 1.5"/>
<path d="M357.06,279.20 L357.96,275.20 L358.86,279.20 Z" fill="#ff3030" fill-opacity="0.45"/>
<line x1="383.67" y1="277.33" x2="383.67" y2="271.93" stroke="#ff3838" stroke-opacity="0.6" stroke-width="0.7" stroke-dasharray="5 1.5"/>
<path d="M382.77,275.43 L383.67,271.43 L384.57,275.43 Z" fill="#ff3030" fill-opacity="0.45"/>
<line x1="409.39" y1="271.13" x2="409.39" y2="265.61" stroke="#ff3838" stroke-opacity="0.6" stroke-width="0.7" stroke-dasharray="5 1.5"/>
<path d="M408.49,269.11 L409.39,265.11 L410.29,269.11 Z" fill="#ff3030" fill-opacity="0.45"/>
<line x1="255.11" y1="172.47" x2="255.11" y2="174.60" stroke="#ff3838" stroke-opacity="0.6" stroke-width="0.7" stroke-dasharray="5 1.5"/>
<path d="M254.21,171.10 L255.11,175.10 L256.01,171.10 Z" fill="#ff3030" fill-opacity="0.45"/>
<line x1="280.83" y1="244.47" x2="280.83" y2="253.07" stroke="#ff3838" stroke-opacity="0.6" stroke-width="0.7" stroke-dasharray="5 1.5"/>
<path d="M279.93,249.57 L280.83,253.57 L281.73,249.57 Z" fill="#ff3030" fill-opacity="0.45"/>
<line x1="306.54" y1="255.77" x2="306.54" y2="264.14" stroke="#ff3838" stroke-opacity="0.6" stroke-width="0.7" stroke-dasharray="5 1.5"/>
<path d="M305.64,260.64 L306.54,264.64 L307.44,260.64 Z" fill="#ff3030" fill-opacity="0.45"/>
<line x1="332.25" y1="257.77" x2="332.25" y2="266.57" stroke="#ff3838" stroke-opacity="0.6" stroke-width="0.7" stroke-dasharray="5 1.5"/>
<path d="M331.35,263.07 L332.25,267.07 L333.15,263.07 Z" fill="#ff3030" fill-opacity="0.45"/>
<line x1="357.96" y1="256.77" x2="357.96" y2="265.41" stroke="#ff3838" stroke-opacity="0.6" stroke-width="0.7" stroke-dasharray="5 1.5"/>
<path d="M357.06,261.91 L357.96,265.91 L358.86,261.91 Z" fill="#ff3030" fill-opacity="0.45"/>
<line x1="383.67" y1="254.27" x2="383.67" y2="263.00" stroke="#ff3838" stroke-opacity="0.6" stroke-width="0.7" stroke-dasharray="5 1.5"/>
<path d="M382.77,259.50 L383.67,263.50 L384.57,259.50 Z" fill="#ff3030" fill-opacity="0.45"/>
<line x1="409.39" y1="249.97" x2="409.39" y2="258.31" stroke="#ff3838" stroke-opacity="0.6" stroke-width="0.7" stroke-dasharray="5 1.5"/>
<path d="M408.49,254.81 L409.39,258.81 L410.29,254.81 Z" fill="#ff3030" fill-opacity="0.45"/>
<polyline points="255.11,178.11 280.83,278.46 306.54,279.58 332.25,278.18 357.96,275.20 383.67,271.43 409.39,265.11" fill="none" stroke="#1f77b4" stroke-width="0.85" stroke-linejoin="round"/>
<circle cx="255.11" cy="178.11" r="1.45" fill="#1f77b4"/>
<circle cx="280.83" cy="278.46" r="1.45" fill="#1f77b4"/>
<circle cx="306.54" cy="279.58" r="1.45" fill="#1f77b4"/>
<circle cx="332.25" cy="278.18" r="1.45" fill="#1f77b4"/>
<circle cx="357.96" cy="275.20" r="1.45" fill="#1f77b4"/>
<circle cx="383.67" cy="271.43" r="1.45" fill="#1f77b4"/>
<circle cx="409.39" cy="265.11" r="1.45" fill="#1f77b4"/>
<polyline points="255.11,175.10 280.83,253.57 306.54,264.64 332.25,267.07 357.96,265.91 383.67,263.50 409.39,258.81" fill="none" stroke="#ff7f0e" stroke-width="0.85" stroke-linejoin="round"/>
<circle cx="255.11" cy="175.10" r="1.45" fill="#ff7f0e"/>
<circle cx="280.83" cy="253.57" r="1.45" fill="#ff7f0e"/>
<circle cx="306.54" cy="264.64" r="1.45" fill="#ff7f0e"/>
<circle cx="332.25" cy="267.07" r="1.45" fill="#ff7f0e"/>
<circle cx="357.96" cy="265.91" r="1.45" fill="#ff7f0e"/>
<circle cx="383.67" cy="263.50" r="1.45" fill="#ff7f0e"/>
<circle cx="409.39" cy="258.81" r="1.45" fill="#ff7f0e"/>
<text x="248.37" y="193.66" font-size="5.98" textLength="14.89" lengthAdjust="spacingAndGlyphs" fill="#222" stroke="#222" stroke-width="0.1" >97.62</text>
<text x="274.08" y="290.76" font-size="5.98" textLength="14.89" lengthAdjust="spacingAndGlyphs" fill="#222" stroke="#222" stroke-width="0.1" >18.23</text>
<text x="299.79" y="292.06" font-size="5.98" textLength="14.89" lengthAdjust="spacingAndGlyphs" fill="#222" stroke="#222" stroke-width="0.1" >17.34</text>
<text x="325.51" y="290.06" font-size="5.98" textLength="14.89" lengthAdjust="spacingAndGlyphs" fill="#222" stroke="#222" stroke-width="0.1" >18.45</text>
<text x="351.22" y="287.56" font-size="5.98" textLength="14.89" lengthAdjust="spacingAndGlyphs" fill="#222" stroke="#222" stroke-width="0.1" >20.81</text>
<text x="376.93" y="283.86" font-size="5.98" textLength="14.89" lengthAdjust="spacingAndGlyphs" fill="#222" stroke="#222" stroke-width="0.1" >23.79</text>
<text x="402.64" y="277.66" font-size="5.98" textLength="14.89" lengthAdjust="spacingAndGlyphs" fill="#222" stroke="#222" stroke-width="0.1" >28.79</text>
<text x="248.37" y="170.26" font-size="5.98" textLength="14.89" lengthAdjust="spacingAndGlyphs" fill="#222" stroke="#222" stroke-width="0.1" >100.0</text>
<text x="274.08" y="242.26" font-size="5.98" textLength="14.89" lengthAdjust="spacingAndGlyphs" fill="#222" stroke="#222" stroke-width="0.1" >37.92</text>
<text x="299.79" y="253.56" font-size="5.98" textLength="14.89" lengthAdjust="spacingAndGlyphs" fill="#222" stroke="#222" stroke-width="0.1" >29.16</text>
<text x="325.51" y="255.56" font-size="5.98" textLength="14.89" lengthAdjust="spacingAndGlyphs" fill="#222" stroke="#222" stroke-width="0.1" >27.24</text>
<text x="351.22" y="254.56" font-size="5.98" textLength="14.89" lengthAdjust="spacingAndGlyphs" fill="#222" stroke="#222" stroke-width="0.1" >28.16</text>
<text x="376.93" y="252.06" font-size="5.98" textLength="14.89" lengthAdjust="spacingAndGlyphs" fill="#222" stroke="#222" stroke-width="0.1" >30.06</text>
<text x="402.64" y="247.76" font-size="5.98" textLength="14.89" lengthAdjust="spacingAndGlyphs" fill="#222" stroke="#222" stroke-width="0.1" >33.77</text>
<rect x="330.10" y="178.60" width="83.4" height="22.8" rx="1.5" fill="#fff" fill-opacity="0.8" stroke="#e0e0e0" stroke-width="0.8"/>
<line x1="332.30" y1="184.70" x2="346.70" y2="184.70" stroke="#1f77b4" stroke-width="0.8"/>
<circle cx="339.70" cy="184.70" r="1.45" fill="#1f77b4"/>
<text x="352.30" y="187.32" font-size="7.25" textLength="44.51" lengthAdjust="spacingAndGlyphs" fill="#222" stroke="#222" stroke-width="0.1" >error on PGD</text>
<text x="397.11" y="188.32" font-size="4.20" textLength="2.55" lengthAdjust="spacingAndGlyphs" fill="#222" stroke="#222" stroke-width="0.1" >2</text>
<text x="399.85" y="187.32" font-size="7.25" textLength="11.27" lengthAdjust="spacingAndGlyphs" fill="#222" stroke="#222" stroke-width="0.1" >-20</text>
<line x1="332.30" y1="194.80" x2="346.70" y2="194.80" stroke="#ff7f0e" stroke-width="0.8"/>
<circle cx="339.70" cy="194.80" r="1.45" fill="#ff7f0e"/>
<text x="352.30" y="197.42" font-size="7.25" textLength="44.51" lengthAdjust="spacingAndGlyphs" fill="#222" stroke="#222" stroke-width="0.1" >error on PGD</text>
<text x="397.11" y="198.42" font-size="4.20" textLength="2.55" lengthAdjust="spacingAndGlyphs" fill="#222" stroke="#222" stroke-width="0.1" >4</text>
<text x="399.85" y="197.42" font-size="7.25" textLength="11.27" lengthAdjust="spacingAndGlyphs" fill="#222" stroke="#222" stroke-width="0.1" >-20</text>
<line x1="469.6" y1="301.4" x2="639.0" y2="301.4" stroke="#e8e8e8" stroke-width="1"/>
<line x1="469.6" y1="175.1" x2="469.6" y2="301.4" stroke="#777" stroke-width="1"/>
<line x1="638.7" y1="175.1" x2="638.7" y2="301.4" stroke="#888" stroke-width="1"/>
<line x1="469.1" y1="175.4" x2="639.5" y2="175.4" stroke="#666" stroke-width="1.1"/>
<line x1="467.1" y1="301.40" x2="469.6" y2="301.40" stroke="#aaa" stroke-width="0.8"/>
<text x="462.14" y="304.31" font-size="8.04" textLength="4.26" lengthAdjust="spacingAndGlyphs" fill="#222" stroke="#222" stroke-width="0.1" >0</text>
<line x1="467.1" y1="276.14" x2="469.6" y2="276.14" stroke="#aaa" stroke-width="0.8"/>
<text x="457.87" y="279.05" font-size="8.04" textLength="8.53" lengthAdjust="spacingAndGlyphs" fill="#222" stroke="#222" stroke-width="0.1" >20</text>
<line x1="467.1" y1="250.88" x2="469.6" y2="250.88" stroke="#aaa" stroke-width="0.8"/>
<text x="457.87" y="253.79" font-size="8.04" textLength="8.53" lengthAdjust="spacingAndGlyphs" fill="#222" stroke="#222" stroke-width="0.1" >40</text>
<line x1="467.1" y1="225.62" x2="469.6" y2="225.62" stroke="#aaa" stroke-width="0.8"/>
<text x="457.87" y="228.53" font-size="8.04" textLength="8.53" lengthAdjust="spacingAndGlyphs" fill="#222" stroke="#222" stroke-width="0.1" >60</text>
<line x1="467.1" y1="200.36" x2="469.6" y2="200.36" stroke="#aaa" stroke-width="0.8"/>
<text x="457.87" y="203.27" font-size="8.04" textLength="8.53" lengthAdjust="spacingAndGlyphs" fill="#222" stroke="#222" stroke-width="0.1" >80</text>
<line x1="467.1" y1="175.10" x2="469.6" y2="175.10" stroke="#aaa" stroke-width="0.8"/>
<text x="453.61" y="178.01" font-size="8.04" textLength="12.79" lengthAdjust="spacingAndGlyphs" fill="#222" stroke="#222" stroke-width="0.1" >100</text>
<line x1="477.30" y1="301.4" x2="477.30" y2="303.9" stroke="#aaa" stroke-width="0.8"/>
<text x="475.17" y="310.11" font-size="8.04" textLength="4.26" lengthAdjust="spacingAndGlyphs" fill="#222" stroke="#222" stroke-width="0.1" >0</text>
<line x1="502.97" y1="301.4" x2="502.97" y2="303.9" stroke="#aaa" stroke-width="0.8"/>
<text x="500.84" y="310.11" font-size="8.04" textLength="4.26" lengthAdjust="spacingAndGlyphs" fill="#222" stroke="#222" stroke-width="0.1" >2</text>
<line x1="528.63" y1="301.4" x2="528.63" y2="303.9" stroke="#aaa" stroke-width="0.8"/>
<text x="526.50" y="310.11" font-size="8.04" textLength="4.26" lengthAdjust="spacingAndGlyphs" fill="#222" stroke="#222" stroke-width="0.1" >4</text>
<line x1="554.30" y1="301.4" x2="554.30" y2="303.9" stroke="#aaa" stroke-width="0.8"/>
<text x="552.17" y="310.11" font-size="8.04" textLength="4.26" lengthAdjust="spacingAndGlyphs" fill="#222" stroke="#222" stroke-width="0.1" >6</text>
<line x1="579.97" y1="301.4" x2="579.97" y2="303.9" stroke="#aaa" stroke-width="0.8"/>
<text x="577.84" y="310.11" font-size="8.04" textLength="4.26" lengthAdjust="spacingAndGlyphs" fill="#222" stroke="#222" stroke-width="0.1" >8</text>
<line x1="605.63" y1="301.4" x2="605.63" y2="303.9" stroke="#aaa" stroke-width="0.8"/>
<text x="601.37" y="310.11" font-size="8.04" textLength="8.53" lengthAdjust="spacingAndGlyphs" fill="#222" stroke="#222" stroke-width="0.1" >10</text>
<line x1="631.30" y1="301.4" x2="631.30" y2="303.9" stroke="#aaa" stroke-width="0.8"/>
<text x="627.04" y="310.11" font-size="8.04" textLength="8.53" lengthAdjust="spacingAndGlyphs" fill="#222" stroke="#222" stroke-width="0.1" >12</text>
<text x="552.30" y="319.00" font-size="10.5" textLength="4.0" lengthAdjust="spacingAndGlyphs" font-family="'Liberation Serif', serif" font-style="italic" fill="#111" stroke="#111" stroke-width="0.15">ε</text>
<text transform="translate(451.00,238.55) rotate(-90)" x="-29.49" y="0" font-size="8.69" textLength="58.99" lengthAdjust="spacingAndGlyphs" fill="#222">Robust Error %</text>
<text x="519.41" y="173.24" font-size="8.40" textLength="69.77" lengthAdjust="spacingAndGlyphs" fill="#222" stroke="#222" stroke-width="0.1" >WideResNet-28-10</text>
<line x1="477.30" y1="184.13" x2="477.30" y2="175.60" stroke="#ff3838" stroke-opacity="0.6" stroke-width="0.7" stroke-dasharray="5 1.5"/>
<path d="M476.40,179.10 L477.30,175.10 L478.20,179.10 Z" fill="#ff3030" fill-opacity="0.45"/>
<line x1="502.97" y1="244.73" x2="502.97" y2="239.74" stroke="#ff3838" stroke-opacity="0.6" stroke-width="0.7" stroke-dasharray="5 1.5"/>
<path d="M502.07,243.24 L502.97,239.24 L503.87,243.24 Z" fill="#ff3030" fill-opacity="0.45"/>
<line x1="528.63" y1="260.83" x2="528.63" y2="255.91" stroke="#ff3838" stroke-opacity="0.6" stroke-width="0.7" stroke-dasharray="5 1.5"/>
<path d="M527.73,259.41 L528.63,255.41 L529.53,259.41 Z" fill="#ff3030" fill-opacity="0.45"/>
<line x1="554.30" y1="267.03" x2="554.30" y2="261.12" stroke="#ff3838" stroke-opacity="0.6" stroke-width="0.7" stroke-dasharray="5 1.5"/>
<path d="M553.40,264.62 L554.30,260.62 L555.20,264.62 Z" fill="#ff3030" fill-opacity="0.45"/>
<line x1="579.97" y1="265.83" x2="579.97" y2="260.83" stroke="#ff3838" stroke-opacity="0.6" stroke-width="0.7" stroke-dasharray="5 1.5"/>
<path d="M579.07,264.33 L579.97,260.33 L580.87,264.33 Z" fill="#ff3030" fill-opacity="0.45"/>
<line x1="605.63" y1="264.33" x2="605.63" y2="259.63" stroke="#ff3838" stroke-opacity="0.6" stroke-width="0.7" stroke-dasharray="5 1.5"/>
<path d="M604.73,263.13 L605.63,259.13 L606.53,263.13 Z" fill="#ff3030" fill-opacity="0.45"/>
<line x1="631.30" y1="261.23" x2="631.30" y2="255.90" stroke="#ff3838" stroke-opacity="0.6" stroke-width="0.7" stroke-dasharray="5 1.5"/>
<path d="M630.40,259.40 L631.30,255.40 L632.20,259.40 Z" fill="#ff3030" fill-opacity="0.45"/>
<line x1="477.30" y1="172.47" x2="477.30" y2="174.60" stroke="#ff3838" stroke-opacity="0.6" stroke-width="0.7" stroke-dasharray="5 1.5"/>
<path d="M476.40,171.10 L477.30,175.10 L478.20,171.10 Z" fill="#ff3030" fill-opacity="0.45"/>
<line x1="502.97" y1="204.17" x2="502.97" y2="212.59" stroke="#ff3838" stroke-opacity="0.6" stroke-width="0.7" stroke-dasharray="5 1.5"/>
<path d="M502.07,209.09 L502.97,213.09 L503.87,209.09 Z" fill="#ff3030" fill-opacity="0.45"/>
<line x1="528.63" y1="227.27" x2="528.63" y2="235.79" stroke="#ff3838" stroke-opacity="0.6" stroke-width="0.7" stroke-dasharray="5 1.5"/>
<path d="M527.73,232.29 L528.63,236.29 L529.53,232.29 Z" fill="#ff3030" fill-opacity="0.45"/>
<line x1="554.30" y1="236.87" x2="554.30" y2="245.26" stroke="#ff3838" stroke-opacity="0.6" stroke-width="0.7" stroke-dasharray="5 1.5"/>
<path d="M553.40,241.76 L554.30,245.76 L555.20,241.76 Z" fill="#ff3030" fill-opacity="0.45"/>
<line x1="579.97" y1="239.77" x2="579.97" y2="248.54" stroke="#ff3838" stroke-opacity="0.6" stroke-width="0.7" stroke-dasharray="5 1.5"/>
<path d="M579.07,245.04 L579.97,249.04 L580.87,245.04 Z" fill="#ff3030" fill-opacity="0.45"/>
<line x1="605.63" y1="241.37" x2="605.63" y2="249.63" stroke="#ff3838" stroke-opacity="0.6" stroke-width="0.7" stroke-dasharray="5 1.5"/>
<path d="M604.73,246.13 L605.63,250.13 L606.53,246.13 Z" fill="#ff3030" fill-opacity="0.45"/>
<line x1="631.30" y1="238.87" x2="631.30" y2="247.49" stroke="#ff3838" stroke-opacity="0.6" stroke-width="0.7" stroke-dasharray="5 1.5"/>
<path d="M630.40,243.99 L631.30,247.99 L632.20,243.99 Z" fill="#ff3030" fill-opacity="0.45"/>
<polyline points="477.30,175.10 502.97,239.24 528.63,255.41 554.30,260.62 579.97,260.33 605.63,259.13 631.30,255.40" fill="none" stroke="#1f77b4" stroke-width="0.85" stroke-linejoin="round"/>
<circle cx="477.30" cy="175.10" r="1.45" fill="#1f77b4"/>
<circle cx="502.97" cy="239.24" r="1.45" fill="#1f77b4"/>
<circle cx="528.63" cy="255.41" r="1.45" fill="#1f77b4"/>
<circle cx="554.30" cy="260.62" r="1.45" fill="#1f77b4"/>
<circle cx="579.97" cy="260.33" r="1.45" fill="#1f77b4"/>
<circle cx="605.63" cy="259.13" r="1.45" fill="#1f77b4"/>
<circle cx="631.30" cy="255.40" r="1.45" fill="#1f77b4"/>
<polyline points="477.30,175.10 502.97,213.09 528.63,236.29 554.30,245.76 579.97,249.04 605.63,250.13 631.30,247.99" fill="none" stroke="#ff7f0e" stroke-width="0.85" stroke-linejoin="round"/>
<circle cx="477.30" cy="175.10" r="1.45" fill="#ff7f0e"/>
<circle cx="502.97" cy="213.09" r="1.45" fill="#ff7f0e"/>
<circle cx="528.63" cy="236.29" r="1.45" fill="#ff7f0e"/>
<circle cx="554.30" cy="245.76" r="1.45" fill="#ff7f0e"/>
<circle cx="579.97" cy="249.04" r="1.45" fill="#ff7f0e"/>
<circle cx="605.63" cy="250.13" r="1.45" fill="#ff7f0e"/>
<circle cx="631.30" cy="247.99" r="1.45" fill="#ff7f0e"/>
<text x="470.56" y="190.66" font-size="5.98" textLength="14.89" lengthAdjust="spacingAndGlyphs" fill="#222" stroke="#222" stroke-width="0.1" >100.0</text>
<text x="496.22" y="251.26" font-size="5.98" textLength="14.89" lengthAdjust="spacingAndGlyphs" fill="#222" stroke="#222" stroke-width="0.1" >49.22</text>
<text x="521.89" y="267.36" font-size="5.98" textLength="14.89" lengthAdjust="spacingAndGlyphs" fill="#222" stroke="#222" stroke-width="0.1" >36.41</text>
<text x="547.56" y="273.56" font-size="5.98" textLength="14.89" lengthAdjust="spacingAndGlyphs" fill="#222" stroke="#222" stroke-width="0.1" >32.29</text>
<text x="573.22" y="272.36" font-size="5.98" textLength="14.89" lengthAdjust="spacingAndGlyphs" fill="#222" stroke="#222" stroke-width="0.1" >32.52</text>
<text x="598.89" y="270.86" font-size="5.98" textLength="14.89" lengthAdjust="spacingAndGlyphs" fill="#222" stroke="#222" stroke-width="0.1" >33.47</text>
<text x="624.56" y="267.76" font-size="5.98" textLength="14.89" lengthAdjust="spacingAndGlyphs" fill="#222" stroke="#222" stroke-width="0.1" >36.42</text>
<text x="470.56" y="170.26" font-size="5.98" textLength="14.89" lengthAdjust="spacingAndGlyphs" fill="#222" stroke="#222" stroke-width="0.1" >100.0</text>
<text x="496.22" y="201.96" font-size="5.98" textLength="14.89" lengthAdjust="spacingAndGlyphs" fill="#222" stroke="#222" stroke-width="0.1" >69.92</text>
<text x="521.89" y="225.06" font-size="5.98" textLength="14.89" lengthAdjust="spacingAndGlyphs" fill="#222" stroke="#222" stroke-width="0.1" >51.55</text>
<text x="547.56" y="234.66" font-size="5.98" textLength="14.89" lengthAdjust="spacingAndGlyphs" fill="#222" stroke="#222" stroke-width="0.1" >44.05</text>
<text x="573.22" y="237.56" font-size="5.98" textLength="14.89" lengthAdjust="spacingAndGlyphs" fill="#222" stroke="#222" stroke-width="0.1" >41.46</text>
<text x="598.89" y="239.16" font-size="5.98" textLength="14.89" lengthAdjust="spacingAndGlyphs" fill="#222" stroke="#222" stroke-width="0.1" >40.59</text>
<text x="624.56" y="236.66" font-size="5.98" textLength="14.89" lengthAdjust="spacingAndGlyphs" fill="#222" stroke="#222" stroke-width="0.1" >42.29</text>
<rect x="552.30" y="178.60" width="83.4" height="22.8" rx="1.5" fill="#fff" fill-opacity="0.8" stroke="#e0e0e0" stroke-width="0.8"/>
<line x1="554.50" y1="184.70" x2="568.90" y2="184.70" stroke="#1f77b4" stroke-width="0.8"/>
<circle cx="561.90" cy="184.70" r="1.45" fill="#1f77b4"/>
<text x="574.50" y="187.32" font-size="7.25" textLength="44.51" lengthAdjust="spacingAndGlyphs" fill="#222" stroke="#222" stroke-width="0.1" >error on PGD</text>
<text x="619.31" y="188.32" font-size="4.20" textLength="2.55" lengthAdjust="spacingAndGlyphs" fill="#222" stroke="#222" stroke-width="0.1" >5</text>
<text x="622.05" y="187.32" font-size="7.25" textLength="11.27" lengthAdjust="spacingAndGlyphs" fill="#222" stroke="#222" stroke-width="0.1" >-20</text>
<line x1="554.50" y1="194.80" x2="568.90" y2="194.80" stroke="#ff7f0e" stroke-width="0.8"/>
<circle cx="561.90" cy="194.80" r="1.45" fill="#ff7f0e"/>
<text x="574.50" y="197.42" font-size="7.25" textLength="44.51" lengthAdjust="spacingAndGlyphs" fill="#222" stroke="#222" stroke-width="0.1" >error on PGD</text>
<text x="619.31" y="198.42" font-size="4.20" textLength="2.55" lengthAdjust="spacingAndGlyphs" fill="#222" stroke="#222" stroke-width="0.1" >7</text>
<text x="622.05" y="197.42" font-size="7.25" textLength="11.27" lengthAdjust="spacingAndGlyphs" fill="#222" stroke="#222" stroke-width="0.1" >-20</text>
</svg></body></html>
